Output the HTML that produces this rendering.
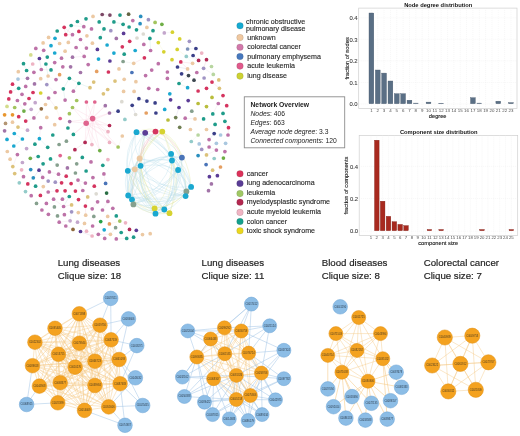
<!DOCTYPE html>
<html><head><meta charset="utf-8"><style>
html,body{margin:0;padding:0;background:#fff;}
svg{display:block;will-change:transform;}
</style></head><body>
<svg width="520" height="436" viewBox="0 0 520 436">
<rect width="520" height="436" fill="#fff"/>
<g stroke-width="0.3" opacity="0.3">
<line x1="77.4" y1="21.5" x2="83.8" y2="26.7" stroke="#1f9c8a"/>
<line x1="71.2" y1="25.5" x2="65.7" y2="34.7" stroke="#1f9c8a"/>
<line x1="71.2" y1="25.5" x2="83.8" y2="26.7" stroke="#1f9c8a"/>
<line x1="64.2" y1="27.3" x2="65.7" y2="34.7" stroke="#d5345f"/>
<line x1="64.2" y1="27.3" x2="72.5" y2="34.7" stroke="#d5345f"/>
<line x1="65.7" y1="34.7" x2="72.5" y2="34.7" stroke="#d5345f"/>
<line x1="72.5" y1="34.7" x2="68.3" y2="42.4" stroke="#bd72a8"/>
<line x1="55.0" y1="38.3" x2="59.6" y2="43.5" stroke="#1aa8d0"/>
<line x1="43.1" y1="42.9" x2="51.0" y2="45.7" stroke="#ecc9a3"/>
<line x1="76.1" y1="47.5" x2="84.2" y2="56.4" stroke="#bd72a8"/>
<line x1="43.7" y1="50.3" x2="39.4" y2="58.5" stroke="#bd72a8"/>
<line x1="39.4" y1="58.5" x2="41.3" y2="69.5" stroke="#5b3c96"/>
<line x1="72.5" y1="57.2" x2="84.2" y2="56.4" stroke="#a274a8"/>
<line x1="23.5" y1="63.7" x2="26.6" y2="70.5" stroke="#1f9c8a"/>
<line x1="32.7" y1="64.0" x2="26.6" y2="70.5" stroke="#eeb3c3"/>
<line x1="45.9" y1="64.0" x2="48.1" y2="76.0" stroke="#1f9c8a"/>
<line x1="41.3" y1="69.5" x2="51.0" y2="69.9" stroke="#bd72a8"/>
<line x1="18.0" y1="79.1" x2="27.5" y2="78.3" stroke="#a9c7df"/>
<line x1="40.7" y1="78.7" x2="34.5" y2="83.9" stroke="#ecc9a3"/>
<line x1="48.1" y1="76.0" x2="56.0" y2="79.6" stroke="#ecc9a3"/>
<line x1="48.1" y1="76.0" x2="46.8" y2="84.6" stroke="#ecc9a3"/>
<line x1="69.4" y1="78.3" x2="78.9" y2="83.3" stroke="#1f9c8a"/>
<line x1="69.4" y1="78.3" x2="63.3" y2="88.8" stroke="#1f9c8a"/>
<line x1="78.9" y1="83.3" x2="73.4" y2="91.2" stroke="#1f9c8a"/>
<line x1="78.9" y1="83.3" x2="90.0" y2="87.7" stroke="#1f9c8a"/>
<line x1="46.8" y1="84.6" x2="55.0" y2="92.5" stroke="#a094c4"/>
<line x1="18.7" y1="88.3" x2="10.6" y2="91.9" stroke="#1f9c8a"/>
<line x1="63.3" y1="88.8" x2="65.1" y2="100.1" stroke="#1f9c8a"/>
<line x1="22.0" y1="94.3" x2="29.0" y2="98.5" stroke="#bd72a8"/>
<line x1="48.6" y1="98.0" x2="56.0" y2="107.8" stroke="#bd72a8"/>
<line x1="102.2" y1="14.5" x2="109.9" y2="15.1" stroke="#7c4866"/>
<line x1="113.9" y1="21.9" x2="123.1" y2="24.3" stroke="#1f9c8a"/>
<line x1="104.0" y1="28.9" x2="100.3" y2="37.7" stroke="#1f9c8a"/>
<line x1="143.3" y1="34.0" x2="149.9" y2="38.4" stroke="#dcdad2"/>
<line x1="80.5" y1="39.5" x2="86.4" y2="48.1" stroke="#bd72a8"/>
<line x1="149.9" y1="38.4" x2="150.6" y2="50.5" stroke="#1f9c8a"/>
<line x1="123.1" y1="61.5" x2="133.7" y2="63.3" stroke="#86a08e"/>
<line x1="144.4" y1="57.8" x2="133.7" y2="63.3" stroke="#d5345f"/>
<line x1="164.3" y1="32.9" x2="172.4" y2="32.2" stroke="#c3a6cc"/>
<line x1="158.3" y1="42.6" x2="163.8" y2="51.8" stroke="#d6d230"/>
<line x1="189.4" y1="41.3" x2="187.6" y2="49.0" stroke="#a094c4"/>
<line x1="177.2" y1="49.4" x2="186.3" y2="56.4" stroke="#d6d230"/>
<line x1="187.6" y1="49.0" x2="195.9" y2="48.5" stroke="#7d92b9"/>
<line x1="186.3" y1="56.4" x2="192.6" y2="63.3" stroke="#93cbc9"/>
<line x1="186.3" y1="56.4" x2="198.6" y2="60.4" stroke="#93cbc9"/>
<line x1="193.1" y1="55.5" x2="198.6" y2="60.4" stroke="#3a3f88"/>
<line x1="180.8" y1="61.9" x2="192.6" y2="63.3" stroke="#d5345f"/>
<line x1="180.8" y1="61.9" x2="187.6" y2="68.9" stroke="#d5345f"/>
<line x1="206.5" y1="59.7" x2="203.6" y2="68.3" stroke="#b22a55"/>
<line x1="177.5" y1="67.0" x2="187.6" y2="68.9" stroke="#3a3f88"/>
<line x1="203.6" y1="68.3" x2="213.3" y2="74.4" stroke="#a094c4"/>
<line x1="211.5" y1="66.5" x2="213.3" y2="74.4" stroke="#b8d6a0"/>
<line x1="188.5" y1="75.6" x2="179.0" y2="83.5" stroke="#3d4750"/>
<line x1="212.0" y1="82.1" x2="219.4" y2="88.3" stroke="#d5345f"/>
<line x1="179.0" y1="83.5" x2="187.6" y2="87.7" stroke="#1f9c8a"/>
<line x1="17.4" y1="100.5" x2="23.9" y2="111.1" stroke="#bd72a8"/>
<line x1="7.0" y1="106.4" x2="12.5" y2="114.8" stroke="#d3dc8c"/>
<line x1="31.2" y1="109.3" x2="23.9" y2="111.1" stroke="#c3a6cc"/>
<line x1="41.3" y1="108.8" x2="33.9" y2="117.9" stroke="#8f6a3e"/>
<line x1="56.0" y1="107.8" x2="60.2" y2="118.5" stroke="#dcc27a"/>
<line x1="72.5" y1="107.5" x2="69.4" y2="113.7" stroke="#a2c45e"/>
<line x1="33.9" y1="117.9" x2="25.7" y2="121.1" stroke="#bd72a8"/>
<line x1="18.0" y1="127.1" x2="27.5" y2="130.2" stroke="#dcc27a"/>
<line x1="40.7" y1="127.7" x2="39.4" y2="138.7" stroke="#bd72a8"/>
<line x1="14.3" y1="133.5" x2="22.4" y2="139.0" stroke="#1aa8d0"/>
<line x1="22.4" y1="139.0" x2="13.8" y2="146.0" stroke="#1aa8d0"/>
<line x1="39.4" y1="138.7" x2="47.7" y2="147.3" stroke="#1aa8d0"/>
<line x1="74.9" y1="149.7" x2="85.1" y2="142.4" stroke="#b22a55"/>
<line x1="17.4" y1="154.6" x2="12.8" y2="166.6" stroke="#bd72a8"/>
<line x1="38.2" y1="156.5" x2="30.3" y2="158.3" stroke="#1f9c8a"/>
<line x1="50.5" y1="158.9" x2="57.2" y2="165.1" stroke="#1f9c8a"/>
<line x1="10.1" y1="159.2" x2="12.8" y2="166.6" stroke="#ecc9a3"/>
<line x1="39.0" y1="170.2" x2="33.3" y2="177.8" stroke="#5b3c96"/>
<line x1="39.0" y1="170.2" x2="42.7" y2="177.4" stroke="#5b3c96"/>
<line x1="33.3" y1="177.8" x2="27.8" y2="183.9" stroke="#2a8fbf"/>
<line x1="43.3" y1="186.6" x2="40.4" y2="195.4" stroke="#ecc9a3"/>
<line x1="43.3" y1="186.6" x2="48.2" y2="181.1" stroke="#ecc9a3"/>
<line x1="49.4" y1="171.9" x2="58.5" y2="174.2" stroke="#bd72a8"/>
<line x1="58.5" y1="174.2" x2="61.6" y2="182.8" stroke="#bd72a8"/>
<line x1="78.0" y1="180.1" x2="85.4" y2="183.1" stroke="#bd72a8"/>
<line x1="78.0" y1="180.1" x2="82.8" y2="190.5" stroke="#bd72a8"/>
<line x1="48.2" y1="192.0" x2="57.0" y2="190.8" stroke="#bd72a8"/>
<line x1="69.3" y1="196.5" x2="62.4" y2="199.2" stroke="#1f9c8a"/>
<line x1="69.3" y1="196.5" x2="63.6" y2="206.5" stroke="#1f9c8a"/>
<line x1="87.7" y1="196.9" x2="85.4" y2="206.1" stroke="#dcc27a"/>
<line x1="53.6" y1="199.2" x2="63.6" y2="206.5" stroke="#bd72a8"/>
<line x1="63.6" y1="206.5" x2="71.6" y2="204.9" stroke="#bd72a8"/>
<line x1="85.4" y1="206.1" x2="85.7" y2="215.2" stroke="#d5345f"/>
<line x1="92.2" y1="208.8" x2="97.6" y2="201.8" stroke="#bd72a8"/>
<line x1="71.6" y1="211.8" x2="70.1" y2="220.8" stroke="#a094c4"/>
<line x1="103.9" y1="173.9" x2="105.6" y2="183.4" stroke="#bd72a8"/>
<line x1="107.9" y1="201.4" x2="102.5" y2="210.0" stroke="#bd72a8"/>
<line x1="59.2" y1="222.2" x2="70.1" y2="220.8" stroke="#bd72a8"/>
<line x1="59.2" y1="222.2" x2="65.8" y2="226.0" stroke="#bd72a8"/>
<line x1="84.5" y1="223.4" x2="80.5" y2="231.5" stroke="#ecc9a3"/>
<line x1="109.4" y1="223.9" x2="119.8" y2="221.1" stroke="#e59f62"/>
<line x1="65.8" y1="226.0" x2="73.0" y2="229.4" stroke="#bd72a8"/>
<line x1="115.6" y1="227.7" x2="110.4" y2="234.3" stroke="#86a08e"/>
<line x1="80.5" y1="231.5" x2="92.1" y2="236.0" stroke="#5b3c96"/>
<line x1="86.5" y1="231.2" x2="92.1" y2="236.0" stroke="#eeb3c3"/>
<line x1="86.5" y1="231.2" x2="98.3" y2="234.3" stroke="#eeb3c3"/>
<line x1="98.3" y1="234.3" x2="110.4" y2="234.3" stroke="#bd72a8"/>
<line x1="116.3" y1="238.9" x2="126.7" y2="238.4" stroke="#bd72a8"/>
<line x1="138.9" y1="98.7" x2="146.9" y2="101.1" stroke="#3a3f88"/>
<line x1="132.2" y1="105.3" x2="135.6" y2="114.5" stroke="#3a3f88"/>
<line x1="109.5" y1="113.0" x2="118.1" y2="111.2" stroke="#a274a8"/>
<line x1="108.0" y1="131.7" x2="109.5" y2="142.4" stroke="#eeb3c3"/>
<line x1="122.3" y1="136.0" x2="118.1" y2="147.0" stroke="#ecc9a3"/>
<line x1="218.3" y1="103.5" x2="212.8" y2="113.9" stroke="#bd72a8"/>
<line x1="179.0" y1="107.5" x2="175.7" y2="117.6" stroke="#5b3c96"/>
<line x1="206.5" y1="106.6" x2="212.8" y2="113.9" stroke="#b9bd3c"/>
<line x1="185.2" y1="118.2" x2="195.0" y2="118.9" stroke="#bd72a8"/>
<line x1="224.9" y1="121.3" x2="228.5" y2="127.7" stroke="#1f9c8a"/>
<line x1="228.5" y1="127.7" x2="228.0" y2="135.0" stroke="#d5345f"/>
<line x1="198.1" y1="135.0" x2="191.3" y2="141.5" stroke="#b8d6a0"/>
<line x1="214.2" y1="133.6" x2="209.1" y2="139.6" stroke="#3a3f88"/>
<line x1="216.4" y1="143.3" x2="209.1" y2="147.0" stroke="#a9c7df"/>
<line x1="209.1" y1="147.0" x2="216.4" y2="150.1" stroke="#bd72a8"/>
<line x1="216.4" y1="150.1" x2="206.5" y2="154.9" stroke="#bd72a8"/>
<line x1="206.5" y1="154.9" x2="206.1" y2="164.6" stroke="#dcc27a"/>
<line x1="220.5" y1="167.0" x2="217.4" y2="175.7" stroke="#e59f62"/>
</g>
<g stroke="#f2a6c0" stroke-width="0.35" opacity="0.5">
<line x1="92.6" y1="118.6" x2="86.4" y2="102"/>
<line x1="92.6" y1="118.6" x2="94.8" y2="102"/>
<line x1="92.6" y1="118.6" x2="105.3" y2="105.7"/>
<line x1="92.6" y1="118.6" x2="109.5" y2="113"/>
<line x1="92.6" y1="118.6" x2="109.5" y2="125.5"/>
<line x1="92.6" y1="118.6" x2="108" y2="131.7"/>
<line x1="92.6" y1="118.6" x2="109.5" y2="142.4"/>
<line x1="92.6" y1="118.6" x2="85.1" y2="142.4"/>
<line x1="92.6" y1="118.6" x2="91.9" y2="144.6"/>
<line x1="92.6" y1="118.6" x2="99.8" y2="150.6"/>
<line x1="92.6" y1="118.6" x2="69.7" y2="121.6"/>
<line x1="92.6" y1="118.6" x2="73.4" y2="134.4"/>
<line x1="92.6" y1="118.6" x2="72.5" y2="107.5"/>
<line x1="92.6" y1="118.6" x2="118.1" y2="147"/>
<line x1="86.2" y1="123.2" x2="86.4" y2="102"/>
<line x1="86.2" y1="123.2" x2="94.8" y2="102"/>
<line x1="86.2" y1="123.2" x2="105.3" y2="105.7"/>
<line x1="86.2" y1="123.2" x2="109.5" y2="113"/>
<line x1="86.2" y1="123.2" x2="109.5" y2="125.5"/>
<line x1="86.2" y1="123.2" x2="108" y2="131.7"/>
<line x1="86.2" y1="123.2" x2="109.5" y2="142.4"/>
<line x1="86.2" y1="123.2" x2="85.1" y2="142.4"/>
<line x1="86.2" y1="123.2" x2="91.9" y2="144.6"/>
<line x1="86.2" y1="123.2" x2="99.8" y2="150.6"/>
<line x1="86.2" y1="123.2" x2="69.7" y2="121.6"/>
<line x1="86.2" y1="123.2" x2="73.4" y2="134.4"/>
<line x1="86.2" y1="123.2" x2="72.5" y2="107.5"/>
<line x1="86.2" y1="123.2" x2="118.1" y2="147"/>
</g>
<g stroke="#a6d4e6" stroke-width="0.35" fill="none" opacity="0.8">
<path d="M136.5,132.2 Q141.0,130.6 145.2,132.8" stroke="#a6d4e6"/>
<path d="M136.5,132.2 Q149.3,126.2 162.3,131.6" stroke="#d8e08a"/>
<path d="M136.5,132.2 Q160.5,138.5 172.0,160.5" stroke="#a6d4e6"/>
<path d="M136.5,132.2 Q132.3,146.0 139.6,158.4" stroke="#a6d4e6"/>
<path d="M136.5,132.2 Q127.5,150.4 134.8,169.3" stroke="#a6d4e6"/>
<path d="M136.5,132.2 Q123.7,149.6 127.8,170.8" stroke="#a6d4e6"/>
<path d="M136.5,132.2 Q175.8,147.5 191.1,186.9" stroke="#a6d4e6"/>
<path d="M136.5,132.2 Q175.1,153.3 185.6,196.1" stroke="#a6d4e6"/>
<path d="M136.5,132.2 Q119.4,164.9 132.0,199.6" stroke="#a6d4e6"/>
<path d="M145.2,132.8 Q150.1,129.9 155.5,131.6" stroke="#f0a0b0"/>
<path d="M145.2,132.8 Q169.0,137.1 181.9,157.6" stroke="#a6d4e6"/>
<path d="M145.2,132.8 Q164.7,140.8 172.0,160.5" stroke="#a6d4e6"/>
<path d="M145.2,132.8 Q135.6,148.3 140.6,165.8" stroke="#a6d4e6"/>
<path d="M145.2,132.8 Q178.7,153.0 186.4,191.4" stroke="#a6d4e6"/>
<path d="M145.2,132.8 Q122.9,160.4 128.2,195.5" stroke="#a6d4e6"/>
<path d="M145.2,132.8 Q133.2,172.7 154.6,208.5" stroke="#d8e08a"/>
<path d="M145.2,132.8 Q137.9,175.4 164.3,209.5" stroke="#a6d4e6"/>
<path d="M145.2,132.8 Q132.6,175.5 155.5,213.7" stroke="#a6d4e6"/>
<path d="M155.5,131.6 Q158.9,130.1 162.3,131.6" stroke="#f0a0b0"/>
<path d="M155.5,131.6 Q174.4,138.8 181.9,157.6" stroke="#f0a0b0"/>
<path d="M155.5,131.6 Q141.7,141.5 139.6,158.4" stroke="#f0a0b0"/>
<path d="M155.5,131.6 Q140.5,145.4 140.6,165.8" stroke="#f0a0b0"/>
<path d="M155.5,131.6 Q128.4,163.1 133.4,204.4" stroke="#f0a0b0"/>
<path d="M162.3,131.6 Q177.8,140.3 181.9,157.6" stroke="#d8e08a"/>
<path d="M162.3,131.6 Q143.9,143.9 140.6,165.8" stroke="#d8e08a"/>
<path d="M162.3,131.6 Q140.3,144.4 134.8,169.3" stroke="#d8e08a"/>
<path d="M162.3,131.6 Q188.9,152.9 191.1,186.9" stroke="#d8e08a"/>
<path d="M162.3,131.6 Q188.1,158.7 185.6,196.1" stroke="#d8e08a"/>
<path d="M162.3,131.6 Q131.2,156.0 128.2,195.5" stroke="#d8e08a"/>
<path d="M162.3,131.6 Q132.2,158.9 132.0,199.6" stroke="#d8e08a"/>
<path d="M162.3,131.6 Q180.4,170.1 164.3,209.5" stroke="#d8e08a"/>
<path d="M162.3,131.6 Q183.9,170.8 169.5,213.2" stroke="#d8e08a"/>
<path d="M171.1,153.9 Q173.0,157.0 172.0,160.5" stroke="#a6d4e6"/>
<path d="M171.1,153.9 Q178.1,160.4 178.1,170.0" stroke="#a6d4e6"/>
<path d="M171.1,153.9 Q188.4,166.0 191.1,186.9" stroke="#a6d4e6"/>
<path d="M171.1,153.9 Q187.6,171.8 185.6,196.1" stroke="#a6d4e6"/>
<path d="M171.1,153.9 Q140.5,165.3 128.2,195.5" stroke="#a6d4e6"/>
<path d="M171.1,153.9 Q141.5,168.1 132.0,199.6" stroke="#a6d4e6"/>
<path d="M171.1,153.9 Q174.9,184.8 154.6,208.5" stroke="#d8e08a"/>
<path d="M171.1,153.9 Q179.9,183.2 164.3,209.5" stroke="#a6d4e6"/>
<path d="M171.1,153.9 Q183.3,183.9 169.5,213.2" stroke="#d8e08a"/>
<path d="M181.9,157.6 Q159.4,152.6 140.6,165.8" stroke="#a6d4e6"/>
<path d="M181.9,157.6 Q155.8,153.1 134.8,169.3" stroke="#a6d4e6"/>
<path d="M181.9,157.6 Q167.9,191.7 133.4,204.4" stroke="#a6d4e6"/>
<path d="M181.9,157.6 Q184.5,187.4 164.3,209.5" stroke="#a6d4e6"/>
<path d="M181.9,157.6 Q181.0,191.5 155.5,213.7" stroke="#a6d4e6"/>
<path d="M172.0,160.5 Q151.5,156.7 134.8,169.3" stroke="#a6d4e6"/>
<path d="M172.0,160.5 Q147.6,155.9 127.8,170.8" stroke="#a6d4e6"/>
<path d="M172.0,160.5 Q187.4,169.5 191.1,186.9" stroke="#a6d4e6"/>
<path d="M172.0,160.5 Q142.4,168.4 128.2,195.5" stroke="#a6d4e6"/>
<path d="M172.0,160.5 Q162.4,190.9 133.4,204.4" stroke="#a6d4e6"/>
<path d="M172.0,160.5 Q178.9,186.7 164.3,209.5" stroke="#a6d4e6"/>
<path d="M139.6,158.4 Q138.5,162.3 140.6,165.8" stroke="#a6d4e6"/>
<path d="M139.6,158.4 Q134.8,162.8 134.8,169.3" stroke="#a6d4e6"/>
<path d="M139.6,158.4 Q171.6,161.3 191.1,186.9" stroke="#a6d4e6"/>
<path d="M139.6,158.4 Q170.3,164.6 186.4,191.4" stroke="#a6d4e6"/>
<path d="M139.6,158.4 Q125.7,174.4 128.2,195.5" stroke="#a6d4e6"/>
<path d="M139.6,158.4 Q126.7,177.3 132.0,199.6" stroke="#a6d4e6"/>
<path d="M139.6,158.4 Q126.4,180.0 133.4,204.4" stroke="#a6d4e6"/>
<path d="M139.6,158.4 Q136.1,186.8 154.6,208.5" stroke="#d8e08a"/>
<path d="M139.6,158.4 Q135.4,189.5 155.5,213.7" stroke="#a6d4e6"/>
<path d="M139.6,158.4 Q142.5,192.4 169.5,213.2" stroke="#d8e08a"/>
<path d="M140.6,165.8 Q133.1,165.5 127.8,170.8" stroke="#a6d4e6"/>
<path d="M140.6,165.8 Q157.9,188.7 186.4,191.4" stroke="#a6d4e6"/>
<path d="M140.6,165.8 Q156.4,190.8 185.6,196.1" stroke="#a6d4e6"/>
<path d="M140.6,165.8 Q128.9,180.8 132.0,199.6" stroke="#a6d4e6"/>
<path d="M140.6,165.8 Q128.5,183.5 133.4,204.4" stroke="#a6d4e6"/>
<path d="M140.6,165.8 Q138.2,190.2 154.6,208.5" stroke="#d8e08a"/>
<path d="M140.6,165.8 Q137.5,193.0 155.5,213.7" stroke="#a6d4e6"/>
<path d="M140.6,165.8 Q144.6,195.9 169.5,213.2" stroke="#d8e08a"/>
<path d="M134.8,169.3 Q131.0,168.5 127.8,170.8" stroke="#a6d4e6"/>
<path d="M134.8,169.3 Q159.1,190.5 191.1,186.9" stroke="#a6d4e6"/>
<path d="M134.8,169.3 Q154.3,193.9 185.6,196.1" stroke="#a6d4e6"/>
<path d="M134.8,169.3 Q125.7,180.9 128.2,195.5" stroke="#a6d4e6"/>
<path d="M134.8,169.3 Q136.1,193.3 154.6,208.5" stroke="#d8e08a"/>
<path d="M134.8,169.3 Q140.7,195.9 164.3,209.5" stroke="#a6d4e6"/>
<path d="M134.8,169.3 Q135.4,196.1 155.5,213.7" stroke="#a6d4e6"/>
<path d="M127.8,170.8 Q152.8,159.3 178.1,170.0" stroke="#a6d4e6"/>
<path d="M127.8,170.8 Q151.1,196.2 185.6,196.1" stroke="#a6d4e6"/>
<path d="M127.8,170.8 Q122.6,183.2 128.2,195.5" stroke="#a6d4e6"/>
<path d="M127.8,170.8 Q137.5,198.2 164.3,209.5" stroke="#a6d4e6"/>
<path d="M127.8,170.8 Q132.2,198.3 155.5,213.7" stroke="#a6d4e6"/>
<path d="M127.8,170.8 Q139.3,201.2 169.5,213.2" stroke="#d8e08a"/>
<path d="M178.1,170.0 Q187.0,178.9 186.4,191.4" stroke="#a6d4e6"/>
<path d="M178.1,170.0 Q187.6,181.4 185.6,196.1" stroke="#a6d4e6"/>
<path d="M178.1,170.0 Q158.8,193.7 128.2,195.5" stroke="#a6d4e6"/>
<path d="M178.1,170.0 Q161.6,194.9 132.0,199.6" stroke="#a6d4e6"/>
<path d="M178.1,170.0 Q163.3,197.0 133.4,204.4" stroke="#a6d4e6"/>
<path d="M178.1,170.0 Q179.9,192.8 164.3,209.5" stroke="#a6d4e6"/>
<path d="M178.1,170.0 Q176.4,196.8 155.5,213.7" stroke="#a6d4e6"/>
<path d="M191.1,186.9 Q161.5,205.0 128.2,195.5" stroke="#a6d4e6"/>
<path d="M191.1,186.9 Q177.6,205.7 154.6,208.5" stroke="#d8e08a"/>
<path d="M186.4,191.4 Q158.2,206.3 128.2,195.5" stroke="#a6d4e6"/>
<path d="M186.4,191.4 Q161.0,207.5 132.0,199.6" stroke="#a6d4e6"/>
<path d="M186.4,191.4 Q162.8,209.6 133.4,204.4" stroke="#a6d4e6"/>
<path d="M186.4,191.4 Q174.3,206.9 154.6,208.5" stroke="#d8e08a"/>
<path d="M186.4,191.4 Q175.9,209.3 155.5,213.7" stroke="#a6d4e6"/>
<path d="M185.6,196.1 Q156.8,208.4 128.2,195.5" stroke="#a6d4e6"/>
<path d="M128.2,195.5 Q129.2,198.4 132.0,199.6" stroke="#a6d4e6"/>
<path d="M128.2,195.5 Q138.5,207.8 154.6,208.5" stroke="#d8e08a"/>
<path d="M128.2,195.5 Q143.2,210.4 164.3,209.5" stroke="#a6d4e6"/>
<path d="M132.0,199.6 Q131.6,202.3 133.4,204.4" stroke="#a6d4e6"/>
<path d="M132.0,199.6 Q140.6,211.8 155.5,213.7" stroke="#a6d4e6"/>
<path d="M132.0,199.6 Q147.8,214.6 169.5,213.2" stroke="#d8e08a"/>
<path d="M133.4,204.4 Q147.7,213.7 164.3,209.5" stroke="#a6d4e6"/>
<path d="M133.4,204.4 Q149.5,216.7 169.5,213.2" stroke="#d8e08a"/>
<path d="M154.6,208.5 Q159.2,211.1 164.3,209.5" stroke="#d8e08a"/>
<path d="M164.3,209.5 Q160.8,213.5 155.5,213.7" stroke="#a6d4e6"/>
</g>
<circle cx="77.4" cy="21.5" r="1.85" fill="#1f9c8a"/>
<circle cx="71.2" cy="25.5" r="1.85" fill="#1f9c8a"/>
<circle cx="64.2" cy="27.3" r="1.85" fill="#d5345f"/>
<circle cx="57.2" cy="31.0" r="1.85" fill="#1f9c8a"/>
<circle cx="78.9" cy="31.4" r="1.85" fill="#d5345f"/>
<circle cx="65.7" cy="34.7" r="1.85" fill="#d5345f"/>
<circle cx="72.5" cy="34.7" r="1.85" fill="#bd72a8"/>
<circle cx="48.6" cy="37.4" r="1.85" fill="#ecc9a3"/>
<circle cx="55.0" cy="38.3" r="1.85" fill="#1aa8d0"/>
<circle cx="43.1" cy="42.9" r="1.85" fill="#ecc9a3"/>
<circle cx="51.0" cy="45.7" r="1.85" fill="#1aa8d0"/>
<circle cx="59.6" cy="43.5" r="1.85" fill="#ecc9a3"/>
<circle cx="68.3" cy="42.4" r="1.85" fill="#ecc9a3"/>
<circle cx="76.1" cy="47.5" r="1.85" fill="#bd72a8"/>
<circle cx="35.8" cy="48.4" r="1.85" fill="#bd72a8"/>
<circle cx="43.7" cy="50.3" r="1.85" fill="#bd72a8"/>
<circle cx="54.7" cy="53.0" r="1.85" fill="#1aa8d0"/>
<circle cx="65.1" cy="51.2" r="1.85" fill="#ecc9a3"/>
<circle cx="30.8" cy="54.9" r="1.85" fill="#d3dc8c"/>
<circle cx="39.4" cy="58.5" r="1.85" fill="#5b3c96"/>
<circle cx="47.3" cy="57.1" r="1.85" fill="#1f9c8a"/>
<circle cx="61.5" cy="58.2" r="1.85" fill="#bd72a8"/>
<circle cx="72.5" cy="57.2" r="1.85" fill="#a274a8"/>
<circle cx="23.5" cy="63.7" r="1.85" fill="#1f9c8a"/>
<circle cx="32.7" cy="64.0" r="1.85" fill="#eeb3c3"/>
<circle cx="45.9" cy="64.0" r="1.85" fill="#1f9c8a"/>
<circle cx="54.7" cy="62.6" r="1.85" fill="#bd72a8"/>
<circle cx="62.8" cy="66.8" r="1.85" fill="#bd72a8"/>
<circle cx="70.6" cy="66.8" r="1.85" fill="#a274a8"/>
<circle cx="18.3" cy="71.7" r="1.85" fill="#ecc9a3"/>
<circle cx="26.6" cy="70.5" r="1.85" fill="#1f9c8a"/>
<circle cx="33.9" cy="72.3" r="1.85" fill="#bd72a8"/>
<circle cx="41.3" cy="69.5" r="1.85" fill="#bd72a8"/>
<circle cx="51.0" cy="69.9" r="1.85" fill="#1f9c8a"/>
<circle cx="59.6" cy="74.7" r="1.85" fill="#e59f62"/>
<circle cx="18.0" cy="79.1" r="1.85" fill="#a9c7df"/>
<circle cx="27.5" cy="78.3" r="1.85" fill="#a274a8"/>
<circle cx="40.7" cy="78.7" r="1.85" fill="#ecc9a3"/>
<circle cx="48.1" cy="76.0" r="1.85" fill="#ecc9a3"/>
<circle cx="56.0" cy="79.6" r="1.85" fill="#bd72a8"/>
<circle cx="69.4" cy="78.3" r="1.85" fill="#1f9c8a"/>
<circle cx="78.9" cy="83.3" r="1.85" fill="#1f9c8a"/>
<circle cx="12.5" cy="84.2" r="1.85" fill="#d5345f"/>
<circle cx="25.7" cy="86.4" r="1.85" fill="#bd72a8"/>
<circle cx="34.5" cy="83.9" r="1.85" fill="#a274a8"/>
<circle cx="46.8" cy="84.6" r="1.85" fill="#a094c4"/>
<circle cx="18.7" cy="88.3" r="1.85" fill="#1f9c8a"/>
<circle cx="63.3" cy="88.8" r="1.85" fill="#1f9c8a"/>
<circle cx="10.6" cy="91.9" r="1.85" fill="#d5345f"/>
<circle cx="22.0" cy="94.3" r="1.85" fill="#bd72a8"/>
<circle cx="33.0" cy="92.5" r="1.85" fill="#d5345f"/>
<circle cx="40.7" cy="93.0" r="1.85" fill="#d6d230"/>
<circle cx="55.0" cy="92.5" r="1.85" fill="#bd72a8"/>
<circle cx="73.4" cy="91.2" r="1.85" fill="#bd72a8"/>
<circle cx="8.8" cy="98.9" r="1.85" fill="#d5345f"/>
<circle cx="29.0" cy="98.5" r="1.85" fill="#d5345f"/>
<circle cx="48.6" cy="98.0" r="1.85" fill="#bd72a8"/>
<circle cx="102.2" cy="14.5" r="1.85" fill="#7c4866"/>
<circle cx="109.9" cy="15.1" r="1.85" fill="#7c4866"/>
<circle cx="120.0" cy="15.1" r="1.85" fill="#1f9c8a"/>
<circle cx="128.6" cy="14.2" r="1.85" fill="#646444"/>
<circle cx="93.0" cy="16.4" r="1.85" fill="#ecc9a3"/>
<circle cx="86.0" cy="18.8" r="1.85" fill="#1f9c8a"/>
<circle cx="99.2" cy="21.9" r="1.85" fill="#1f9c8a"/>
<circle cx="113.9" cy="21.9" r="1.85" fill="#1f9c8a"/>
<circle cx="132.8" cy="20.6" r="1.85" fill="#bd72a8"/>
<circle cx="140.7" cy="16.4" r="1.85" fill="#2a8fbf"/>
<circle cx="148.4" cy="19.7" r="1.85" fill="#a094c4"/>
<circle cx="123.1" cy="24.3" r="1.85" fill="#1f9c8a"/>
<circle cx="140.1" cy="23.7" r="1.85" fill="#2a8fbf"/>
<circle cx="83.8" cy="26.7" r="1.85" fill="#bd72a8"/>
<circle cx="91.5" cy="28.9" r="1.85" fill="#bd72a8"/>
<circle cx="104.0" cy="28.9" r="1.85" fill="#1f9c8a"/>
<circle cx="110.8" cy="30.7" r="1.85" fill="#a094c4"/>
<circle cx="129.1" cy="27.0" r="1.85" fill="#1f9c8a"/>
<circle cx="136.5" cy="29.8" r="1.85" fill="#1f9c8a"/>
<circle cx="146.9" cy="27.4" r="1.85" fill="#ecc9a3"/>
<circle cx="153.0" cy="30.7" r="1.85" fill="#1f9c8a"/>
<circle cx="86.9" cy="35.8" r="1.85" fill="#ecc9a3"/>
<circle cx="100.3" cy="37.7" r="1.85" fill="#1f9c8a"/>
<circle cx="123.6" cy="33.4" r="1.85" fill="#5b3c96"/>
<circle cx="143.3" cy="34.0" r="1.85" fill="#dcdad2"/>
<circle cx="80.5" cy="39.5" r="1.85" fill="#bd72a8"/>
<circle cx="116.3" cy="38.4" r="1.85" fill="#a274a8"/>
<circle cx="129.7" cy="41.3" r="1.85" fill="#d5345f"/>
<circle cx="137.0" cy="38.0" r="1.85" fill="#dcdad2"/>
<circle cx="149.9" cy="38.4" r="1.85" fill="#1f9c8a"/>
<circle cx="92.4" cy="43.2" r="1.85" fill="#ecc9a3"/>
<circle cx="107.1" cy="45.0" r="1.85" fill="#1aa8d0"/>
<circle cx="143.8" cy="44.4" r="1.85" fill="#bd72a8"/>
<circle cx="86.4" cy="48.1" r="1.85" fill="#bd72a8"/>
<circle cx="97.4" cy="49.4" r="1.85" fill="#5b3c96"/>
<circle cx="122.3" cy="46.8" r="1.85" fill="#d5345f"/>
<circle cx="113.9" cy="53.1" r="1.85" fill="#1aa8d0"/>
<circle cx="124.2" cy="54.2" r="1.85" fill="#1f9c8a"/>
<circle cx="135.2" cy="50.5" r="1.85" fill="#1aa8d0"/>
<circle cx="150.6" cy="50.5" r="1.85" fill="#bd72a8"/>
<circle cx="84.2" cy="56.4" r="1.85" fill="#bd72a8"/>
<circle cx="98.5" cy="59.1" r="1.85" fill="#1aa8d0"/>
<circle cx="109.9" cy="61.0" r="1.85" fill="#5b3c96"/>
<circle cx="123.1" cy="61.5" r="1.85" fill="#86a08e"/>
<circle cx="144.4" cy="57.8" r="1.85" fill="#d5345f"/>
<circle cx="88.2" cy="64.6" r="1.85" fill="#bd72a8"/>
<circle cx="133.7" cy="63.3" r="1.85" fill="#ecc9a3"/>
<circle cx="119.0" cy="68.9" r="1.85" fill="#ecc9a3"/>
<circle cx="80.5" cy="72.5" r="1.85" fill="#a274a8"/>
<circle cx="96.7" cy="71.4" r="1.85" fill="#e59f62"/>
<circle cx="108.4" cy="72.0" r="1.85" fill="#d5345f"/>
<circle cx="131.9" cy="72.5" r="1.85" fill="#4a74b8"/>
<circle cx="151.7" cy="70.1" r="1.85" fill="#bd72a8"/>
<circle cx="145.6" cy="75.6" r="1.85" fill="#bd72a8"/>
<circle cx="93.7" cy="82.1" r="1.85" fill="#dcc27a"/>
<circle cx="115.0" cy="81.1" r="1.85" fill="#dcc27a"/>
<circle cx="124.2" cy="79.3" r="1.85" fill="#ecc9a3"/>
<circle cx="135.9" cy="81.7" r="1.85" fill="#ecc9a3"/>
<circle cx="155.1" cy="22.4" r="1.85" fill="#a2c45e"/>
<circle cx="161.9" cy="24.3" r="1.85" fill="#6fae46"/>
<circle cx="164.3" cy="32.9" r="1.85" fill="#c3a6cc"/>
<circle cx="172.4" cy="32.2" r="1.85" fill="#d6d230"/>
<circle cx="158.3" cy="42.6" r="1.85" fill="#d6d230"/>
<circle cx="179.7" cy="38.9" r="1.85" fill="#d6d230"/>
<circle cx="189.4" cy="41.3" r="1.85" fill="#a094c4"/>
<circle cx="163.8" cy="51.8" r="1.85" fill="#d6d230"/>
<circle cx="177.2" cy="49.4" r="1.85" fill="#d6d230"/>
<circle cx="187.6" cy="49.0" r="1.85" fill="#7d92b9"/>
<circle cx="195.9" cy="48.5" r="1.85" fill="#3a3f88"/>
<circle cx="201.7" cy="53.1" r="1.85" fill="#eeb3c3"/>
<circle cx="186.3" cy="56.4" r="1.85" fill="#93cbc9"/>
<circle cx="193.1" cy="55.5" r="1.85" fill="#3a3f88"/>
<circle cx="172.0" cy="59.7" r="1.85" fill="#d6d230"/>
<circle cx="158.3" cy="63.7" r="1.85" fill="#bd72a8"/>
<circle cx="180.8" cy="61.9" r="1.85" fill="#d5345f"/>
<circle cx="192.6" cy="63.3" r="1.85" fill="#ecc9a3"/>
<circle cx="198.6" cy="60.4" r="1.85" fill="#b22a55"/>
<circle cx="206.5" cy="59.7" r="1.85" fill="#b22a55"/>
<circle cx="177.5" cy="67.0" r="1.85" fill="#3a3f88"/>
<circle cx="187.6" cy="68.9" r="1.85" fill="#ecc9a3"/>
<circle cx="203.6" cy="68.3" r="1.85" fill="#a094c4"/>
<circle cx="211.5" cy="66.5" r="1.85" fill="#b8d6a0"/>
<circle cx="167.4" cy="72.0" r="1.85" fill="#bd72a8"/>
<circle cx="181.6" cy="73.8" r="1.85" fill="#3a3f88"/>
<circle cx="188.5" cy="75.6" r="1.85" fill="#3d4750"/>
<circle cx="196.8" cy="72.5" r="1.85" fill="#bd72a8"/>
<circle cx="213.3" cy="74.4" r="1.85" fill="#b8d6a0"/>
<circle cx="167.4" cy="78.4" r="1.85" fill="#bd72a8"/>
<circle cx="194.0" cy="80.2" r="1.85" fill="#3d4750"/>
<circle cx="204.1" cy="78.0" r="1.85" fill="#a094c4"/>
<circle cx="212.0" cy="82.1" r="1.85" fill="#d5345f"/>
<circle cx="218.8" cy="79.9" r="1.85" fill="#dcc27a"/>
<circle cx="179.0" cy="83.5" r="1.85" fill="#1f9c8a"/>
<circle cx="17.4" cy="100.5" r="1.85" fill="#bd72a8"/>
<circle cx="24.8" cy="103.8" r="1.85" fill="#bd72a8"/>
<circle cx="35.2" cy="102.7" r="1.85" fill="#c3a6cc"/>
<circle cx="45.5" cy="104.5" r="1.85" fill="#ecc9a3"/>
<circle cx="65.1" cy="100.1" r="1.85" fill="#bd72a8"/>
<circle cx="76.7" cy="100.5" r="1.85" fill="#a2c45e"/>
<circle cx="7.0" cy="106.4" r="1.85" fill="#d3dc8c"/>
<circle cx="14.7" cy="107.5" r="1.85" fill="#a2c45e"/>
<circle cx="31.2" cy="109.3" r="1.85" fill="#c3a6cc"/>
<circle cx="41.3" cy="108.8" r="1.85" fill="#8f6a3e"/>
<circle cx="56.0" cy="107.8" r="1.85" fill="#dcc27a"/>
<circle cx="72.5" cy="107.5" r="1.85" fill="#a2c45e"/>
<circle cx="23.9" cy="111.1" r="1.85" fill="#6fae46"/>
<circle cx="4.6" cy="114.8" r="1.85" fill="#e8962e"/>
<circle cx="12.5" cy="114.8" r="1.85" fill="#e8962e"/>
<circle cx="18.7" cy="116.7" r="1.85" fill="#d5345f"/>
<circle cx="33.9" cy="117.9" r="1.85" fill="#bd72a8"/>
<circle cx="46.8" cy="117.4" r="1.85" fill="#ecc9a3"/>
<circle cx="60.2" cy="118.5" r="1.85" fill="#e0648e"/>
<circle cx="69.4" cy="113.7" r="1.85" fill="#a2c45e"/>
<circle cx="5.5" cy="123.4" r="1.85" fill="#b39673"/>
<circle cx="12.5" cy="122.2" r="1.85" fill="#ecc9a3"/>
<circle cx="25.7" cy="121.1" r="1.85" fill="#d5345f"/>
<circle cx="69.7" cy="121.6" r="1.85" fill="#a274a8"/>
<circle cx="18.0" cy="127.1" r="1.85" fill="#dcc27a"/>
<circle cx="40.7" cy="127.7" r="1.85" fill="#bd72a8"/>
<circle cx="54.7" cy="124.7" r="1.85" fill="#ecc9a3"/>
<circle cx="67.9" cy="128.0" r="1.85" fill="#1f9c8a"/>
<circle cx="4.6" cy="130.8" r="1.85" fill="#a274a8"/>
<circle cx="27.5" cy="130.2" r="1.85" fill="#c3a6cc"/>
<circle cx="14.3" cy="133.5" r="1.85" fill="#1aa8d0"/>
<circle cx="52.8" cy="135.0" r="1.85" fill="#1f9c8a"/>
<circle cx="73.4" cy="134.4" r="1.85" fill="#1f9c8a"/>
<circle cx="7.0" cy="139.4" r="1.85" fill="#1aa8d0"/>
<circle cx="22.4" cy="139.0" r="1.85" fill="#1aa8d0"/>
<circle cx="39.4" cy="138.7" r="1.85" fill="#1aa8d0"/>
<circle cx="66.4" cy="141.2" r="1.85" fill="#86a08e"/>
<circle cx="13.8" cy="146.0" r="1.85" fill="#1aa8d0"/>
<circle cx="34.9" cy="144.2" r="1.85" fill="#1f9c8a"/>
<circle cx="47.7" cy="147.3" r="1.85" fill="#1f9c8a"/>
<circle cx="59.1" cy="144.5" r="1.85" fill="#86a08e"/>
<circle cx="26.6" cy="148.6" r="1.85" fill="#c3a6cc"/>
<circle cx="74.9" cy="149.7" r="1.85" fill="#b22a55"/>
<circle cx="7.3" cy="151.5" r="1.85" fill="#ecc9a3"/>
<circle cx="17.4" cy="154.6" r="1.85" fill="#bd72a8"/>
<circle cx="38.2" cy="156.5" r="1.85" fill="#1f9c8a"/>
<circle cx="30.3" cy="158.3" r="1.85" fill="#6fae46"/>
<circle cx="60.2" cy="155.6" r="1.85" fill="#e0648e"/>
<circle cx="50.5" cy="158.9" r="1.85" fill="#1f9c8a"/>
<circle cx="69.4" cy="157.8" r="1.85" fill="#a2c45e"/>
<circle cx="10.1" cy="159.2" r="1.85" fill="#ecc9a3"/>
<circle cx="22.4" cy="162.5" r="1.85" fill="#c3a6cc"/>
<circle cx="43.1" cy="163.8" r="1.85" fill="#1f9c8a"/>
<circle cx="57.2" cy="165.1" r="1.85" fill="#86a08e"/>
<circle cx="76.7" cy="163.8" r="1.85" fill="#86a08e"/>
<circle cx="12.8" cy="166.6" r="1.85" fill="#dcc27a"/>
<circle cx="21.6" cy="169.8" r="1.85" fill="#eeb3c3"/>
<circle cx="30.7" cy="169.6" r="1.85" fill="#2a8fbf"/>
<circle cx="39.0" cy="170.2" r="1.85" fill="#5b3c96"/>
<circle cx="14.7" cy="173.6" r="1.85" fill="#dcc27a"/>
<circle cx="23.5" cy="176.7" r="1.85" fill="#bd72a8"/>
<circle cx="33.3" cy="177.8" r="1.85" fill="#2a8fbf"/>
<circle cx="42.7" cy="177.4" r="1.85" fill="#bd72a8"/>
<circle cx="19.3" cy="182.8" r="1.85" fill="#93cbc9"/>
<circle cx="27.8" cy="183.9" r="1.85" fill="#d5345f"/>
<circle cx="35.6" cy="186.2" r="1.85" fill="#1f9c8a"/>
<circle cx="43.3" cy="186.6" r="1.85" fill="#ecc9a3"/>
<circle cx="25.5" cy="191.6" r="1.85" fill="#93cbc9"/>
<circle cx="31.2" cy="195.7" r="1.85" fill="#bd72a8"/>
<circle cx="40.4" cy="195.4" r="1.85" fill="#d5345f"/>
<circle cx="36.5" cy="203.4" r="1.85" fill="#86a08e"/>
<circle cx="41.9" cy="210.0" r="1.85" fill="#bd72a8"/>
<circle cx="67.4" cy="167.9" r="1.85" fill="#a274a8"/>
<circle cx="49.4" cy="171.9" r="1.85" fill="#bd72a8"/>
<circle cx="58.5" cy="174.2" r="1.85" fill="#bd72a8"/>
<circle cx="75.4" cy="173.0" r="1.85" fill="#86a08e"/>
<circle cx="86.1" cy="171.0" r="1.85" fill="#1f9c8a"/>
<circle cx="66.2" cy="176.2" r="1.85" fill="#d5345f"/>
<circle cx="48.2" cy="181.1" r="1.85" fill="#a094c4"/>
<circle cx="55.3" cy="182.2" r="1.85" fill="#a094c4"/>
<circle cx="61.6" cy="182.8" r="1.85" fill="#d5345f"/>
<circle cx="71.1" cy="183.6" r="1.85" fill="#d5345f"/>
<circle cx="78.0" cy="180.1" r="1.85" fill="#bd72a8"/>
<circle cx="85.4" cy="183.1" r="1.85" fill="#bd72a8"/>
<circle cx="92.9" cy="177.6" r="1.85" fill="#bd72a8"/>
<circle cx="94.3" cy="186.2" r="1.85" fill="#d5345f"/>
<circle cx="48.2" cy="192.0" r="1.85" fill="#bd72a8"/>
<circle cx="57.0" cy="190.8" r="1.85" fill="#d5345f"/>
<circle cx="65.1" cy="190.8" r="1.85" fill="#d5345f"/>
<circle cx="75.4" cy="191.1" r="1.85" fill="#d5345f"/>
<circle cx="82.8" cy="190.5" r="1.85" fill="#bd72a8"/>
<circle cx="69.3" cy="196.5" r="1.85" fill="#1f9c8a"/>
<circle cx="78.5" cy="199.6" r="1.85" fill="#d5345f"/>
<circle cx="87.7" cy="196.9" r="1.85" fill="#dcc27a"/>
<circle cx="53.6" cy="199.2" r="1.85" fill="#bd72a8"/>
<circle cx="62.4" cy="199.2" r="1.85" fill="#bd72a8"/>
<circle cx="46.4" cy="203.4" r="1.85" fill="#bd72a8"/>
<circle cx="54.4" cy="206.9" r="1.85" fill="#86a08e"/>
<circle cx="63.6" cy="206.5" r="1.85" fill="#bd72a8"/>
<circle cx="71.6" cy="204.9" r="1.85" fill="#dcc27a"/>
<circle cx="85.4" cy="206.1" r="1.85" fill="#d5345f"/>
<circle cx="92.2" cy="208.8" r="1.85" fill="#bd72a8"/>
<circle cx="71.6" cy="211.8" r="1.85" fill="#a094c4"/>
<circle cx="78.3" cy="212.6" r="1.85" fill="#ecc9a3"/>
<circle cx="48.4" cy="214.3" r="1.85" fill="#bd72a8"/>
<circle cx="91.0" cy="161.9" r="1.85" fill="#bd72a8"/>
<circle cx="107.9" cy="159.6" r="1.85" fill="#eeb3c3"/>
<circle cx="102.8" cy="165.3" r="1.85" fill="#1f9c8a"/>
<circle cx="103.9" cy="173.9" r="1.85" fill="#bd72a8"/>
<circle cx="105.6" cy="183.4" r="1.85" fill="#4a74b8"/>
<circle cx="96.2" cy="193.8" r="1.85" fill="#dcdad2"/>
<circle cx="106.6" cy="193.1" r="1.85" fill="#2a6e44"/>
<circle cx="97.6" cy="201.8" r="1.85" fill="#bd72a8"/>
<circle cx="107.9" cy="201.4" r="1.85" fill="#bd72a8"/>
<circle cx="57.5" cy="215.9" r="1.85" fill="#86a08e"/>
<circle cx="64.4" cy="214.7" r="1.85" fill="#bd72a8"/>
<circle cx="85.7" cy="215.2" r="1.85" fill="#ecc9a3"/>
<circle cx="93.8" cy="216.4" r="1.85" fill="#86a08e"/>
<circle cx="102.5" cy="210.0" r="1.85" fill="#bd72a8"/>
<circle cx="112.8" cy="208.3" r="1.85" fill="#bd72a8"/>
<circle cx="107.7" cy="216.4" r="1.85" fill="#ecc9a3"/>
<circle cx="116.3" cy="215.9" r="1.85" fill="#1f9c8a"/>
<circle cx="59.2" cy="222.2" r="1.85" fill="#bd72a8"/>
<circle cx="70.1" cy="220.8" r="1.85" fill="#c3a6cc"/>
<circle cx="77.5" cy="222.2" r="1.85" fill="#c3a6cc"/>
<circle cx="84.5" cy="223.4" r="1.85" fill="#ecc9a3"/>
<circle cx="100.7" cy="221.6" r="1.85" fill="#27a248"/>
<circle cx="109.4" cy="223.9" r="1.85" fill="#e59f62"/>
<circle cx="119.8" cy="221.1" r="1.85" fill="#a2c45e"/>
<circle cx="125.5" cy="222.8" r="1.85" fill="#eeb3c3"/>
<circle cx="65.8" cy="226.0" r="1.85" fill="#bd72a8"/>
<circle cx="92.6" cy="226.0" r="1.85" fill="#bd72a8"/>
<circle cx="115.6" cy="227.7" r="1.85" fill="#86a08e"/>
<circle cx="73.0" cy="229.4" r="1.85" fill="#8f6a3e"/>
<circle cx="80.5" cy="231.5" r="1.85" fill="#5b3c96"/>
<circle cx="86.5" cy="231.2" r="1.85" fill="#eeb3c3"/>
<circle cx="104.2" cy="229.8" r="1.85" fill="#1aa8d0"/>
<circle cx="129.5" cy="229.4" r="1.85" fill="#b22a55"/>
<circle cx="121.2" cy="232.5" r="1.85" fill="#1f9c8a"/>
<circle cx="92.1" cy="236.0" r="1.85" fill="#eeb3c3"/>
<circle cx="98.3" cy="234.3" r="1.85" fill="#bd72a8"/>
<circle cx="110.4" cy="234.3" r="1.85" fill="#ecc9a3"/>
<circle cx="104.7" cy="238.4" r="1.85" fill="#bd72a8"/>
<circle cx="116.3" cy="238.9" r="1.85" fill="#bd72a8"/>
<circle cx="126.7" cy="238.4" r="1.85" fill="#1f9c8a"/>
<circle cx="133.6" cy="237.2" r="1.85" fill="#1f9c8a"/>
<circle cx="136.3" cy="230.3" r="1.85" fill="#5b3c96"/>
<circle cx="142.5" cy="234.6" r="1.85" fill="#ecc9a3"/>
<circle cx="150.2" cy="233.7" r="1.85" fill="#ecc9a3"/>
<circle cx="90.0" cy="87.7" r="1.85" fill="#dcc27a"/>
<circle cx="107.7" cy="89.5" r="1.85" fill="#dcc27a"/>
<circle cx="103.4" cy="93.8" r="1.85" fill="#dcc27a"/>
<circle cx="123.6" cy="91.4" r="1.85" fill="#ecc9a3"/>
<circle cx="134.1" cy="91.4" r="1.85" fill="#ecc9a3"/>
<circle cx="148.8" cy="88.3" r="1.85" fill="#bd72a8"/>
<circle cx="86.4" cy="102.0" r="1.85" fill="#e0648e"/>
<circle cx="94.8" cy="102.0" r="1.85" fill="#e0648e"/>
<circle cx="105.3" cy="105.7" r="1.85" fill="#a274a8"/>
<circle cx="121.8" cy="101.7" r="1.85" fill="#dcdad2"/>
<circle cx="138.9" cy="98.7" r="1.85" fill="#3a3f88"/>
<circle cx="146.9" cy="101.1" r="1.85" fill="#3a3f88"/>
<circle cx="132.2" cy="105.3" r="1.85" fill="#3a3f88"/>
<circle cx="109.5" cy="113.0" r="1.85" fill="#a274a8"/>
<circle cx="118.1" cy="111.2" r="1.85" fill="#3a3f88"/>
<circle cx="135.6" cy="114.5" r="1.85" fill="#dcdad2"/>
<circle cx="146.2" cy="113.0" r="1.85" fill="#e59f62"/>
<circle cx="109.5" cy="125.5" r="1.85" fill="#b22a55"/>
<circle cx="124.9" cy="119.4" r="1.85" fill="#93cbc9"/>
<circle cx="108.0" cy="131.7" r="1.85" fill="#eeb3c3"/>
<circle cx="122.3" cy="136.0" r="1.85" fill="#ecc9a3"/>
<circle cx="85.1" cy="142.4" r="1.85" fill="#b22a55"/>
<circle cx="91.9" cy="144.6" r="1.85" fill="#eeb3c3"/>
<circle cx="109.5" cy="142.4" r="1.85" fill="#eeb3c3"/>
<circle cx="118.1" cy="147.0" r="1.85" fill="#a2c45e"/>
<circle cx="99.8" cy="150.6" r="1.85" fill="#6fae46"/>
<circle cx="82.3" cy="157.4" r="1.85" fill="#1f9c8a"/>
<circle cx="157.7" cy="89.5" r="1.85" fill="#bd72a8"/>
<circle cx="187.6" cy="87.7" r="1.85" fill="#1aa8d0"/>
<circle cx="198.1" cy="91.0" r="1.85" fill="#d5345f"/>
<circle cx="206.5" cy="88.3" r="1.85" fill="#d5345f"/>
<circle cx="219.4" cy="88.3" r="1.85" fill="#dcc27a"/>
<circle cx="169.8" cy="93.8" r="1.85" fill="#1aa8d0"/>
<circle cx="170.6" cy="99.8" r="1.85" fill="#5b3c96"/>
<circle cx="188.2" cy="100.6" r="1.85" fill="#5b3c96"/>
<circle cx="212.0" cy="97.4" r="1.85" fill="#b9bd3c"/>
<circle cx="223.0" cy="95.6" r="1.85" fill="#d5345f"/>
<circle cx="155.1" cy="102.9" r="1.85" fill="#3a3f88"/>
<circle cx="198.1" cy="103.5" r="1.85" fill="#b9bd3c"/>
<circle cx="218.3" cy="103.5" r="1.85" fill="#bd72a8"/>
<circle cx="226.7" cy="105.7" r="1.85" fill="#d5345f"/>
<circle cx="164.7" cy="109.4" r="1.85" fill="#1aa8d0"/>
<circle cx="179.0" cy="107.5" r="1.85" fill="#5b3c96"/>
<circle cx="206.5" cy="106.6" r="1.85" fill="#b9bd3c"/>
<circle cx="155.9" cy="113.0" r="1.85" fill="#3a3f88"/>
<circle cx="191.8" cy="111.2" r="1.85" fill="#86a08e"/>
<circle cx="212.8" cy="113.9" r="1.85" fill="#1f9c8a"/>
<circle cx="223.0" cy="113.4" r="1.85" fill="#1f9c8a"/>
<circle cx="168.0" cy="120.0" r="1.85" fill="#b9bd3c"/>
<circle cx="175.7" cy="117.6" r="1.85" fill="#6f7e52"/>
<circle cx="185.2" cy="118.2" r="1.85" fill="#bd72a8"/>
<circle cx="195.0" cy="118.9" r="1.85" fill="#ecc9a3"/>
<circle cx="203.6" cy="118.9" r="1.85" fill="#1f9c8a"/>
<circle cx="215.1" cy="124.4" r="1.85" fill="#1f9c8a"/>
<circle cx="224.9" cy="121.3" r="1.85" fill="#1f9c8a"/>
<circle cx="179.7" cy="127.3" r="1.85" fill="#6f7e52"/>
<circle cx="190.4" cy="129.5" r="1.85" fill="#ecc9a3"/>
<circle cx="206.5" cy="129.5" r="1.85" fill="#ecc9a3"/>
<circle cx="228.5" cy="127.7" r="1.85" fill="#d5345f"/>
<circle cx="198.1" cy="135.0" r="1.85" fill="#b8d6a0"/>
<circle cx="214.2" cy="133.6" r="1.85" fill="#3a3f88"/>
<circle cx="220.6" cy="135.0" r="1.85" fill="#a9c7df"/>
<circle cx="228.0" cy="135.0" r="1.85" fill="#bd72a8"/>
<circle cx="191.3" cy="141.5" r="1.85" fill="#93cbc9"/>
<circle cx="199.2" cy="143.9" r="1.85" fill="#a9c7df"/>
<circle cx="209.1" cy="139.6" r="1.85" fill="#bd72a8"/>
<circle cx="216.4" cy="143.3" r="1.85" fill="#a9c7df"/>
<circle cx="225.6" cy="143.3" r="1.85" fill="#a9c7df"/>
<circle cx="201.7" cy="149.4" r="1.85" fill="#a094c4"/>
<circle cx="209.1" cy="147.0" r="1.85" fill="#bd72a8"/>
<circle cx="216.4" cy="150.1" r="1.85" fill="#bd72a8"/>
<circle cx="224.9" cy="151.6" r="1.85" fill="#bd72a8"/>
<circle cx="198.1" cy="155.6" r="1.85" fill="#2a8fbf"/>
<circle cx="206.5" cy="154.9" r="1.85" fill="#dcc27a"/>
<circle cx="214.2" cy="158.5" r="1.85" fill="#93cbc9"/>
<circle cx="223.4" cy="158.1" r="1.85" fill="#6fae46"/>
<circle cx="206.1" cy="164.6" r="1.85" fill="#4a74b8"/>
<circle cx="220.5" cy="167.0" r="1.85" fill="#e59f62"/>
<circle cx="212.6" cy="170.2" r="1.85" fill="#dcc27a"/>
<circle cx="209.4" cy="176.7" r="1.85" fill="#5b3c96"/>
<circle cx="217.4" cy="175.7" r="1.85" fill="#5b3c96"/>
<circle cx="211.4" cy="183.9" r="1.85" fill="#a274a8"/>
<circle cx="208.5" cy="190.7" r="1.85" fill="#a274a8"/>
<circle cx="136.5" cy="132.2" r="2.9" fill="#1aa8d0"/>
<circle cx="145.2" cy="132.8" r="2.9" fill="#5b3c96"/>
<circle cx="155.5" cy="131.6" r="2.9" fill="#d5345f"/>
<circle cx="162.3" cy="131.6" r="2.9" fill="#d6d230"/>
<circle cx="171.1" cy="153.9" r="2.9" fill="#1aa8d0"/>
<circle cx="181.9" cy="157.6" r="2.9" fill="#4a74b8"/>
<circle cx="172.0" cy="160.5" r="2.9" fill="#1aa8d0"/>
<circle cx="139.6" cy="158.4" r="2.9" fill="#ecc9a3"/>
<circle cx="140.6" cy="165.8" r="2.9" fill="#1aa8d0"/>
<circle cx="134.8" cy="169.3" r="2.9" fill="#ecc9a3"/>
<circle cx="127.8" cy="170.8" r="2.9" fill="#1aa8d0"/>
<circle cx="178.1" cy="170.0" r="2.9" fill="#1aa8d0"/>
<circle cx="191.1" cy="186.9" r="2.9" fill="#1aa8d0"/>
<circle cx="186.4" cy="191.4" r="2.9" fill="#86a08e"/>
<circle cx="185.6" cy="196.1" r="2.9" fill="#1aa8d0"/>
<circle cx="128.2" cy="195.5" r="2.9" fill="#1aa8d0"/>
<circle cx="132.0" cy="199.6" r="2.9" fill="#1aa8d0"/>
<circle cx="133.4" cy="204.4" r="2.9" fill="#86a08e"/>
<circle cx="154.6" cy="208.5" r="2.9" fill="#d6d230"/>
<circle cx="164.3" cy="209.5" r="2.9" fill="#1aa8d0"/>
<circle cx="155.5" cy="213.7" r="2.9" fill="#1aa8d0"/>
<circle cx="169.5" cy="213.2" r="2.9" fill="#d6d230"/>
<circle cx="92.6" cy="118.6" r="2.8" fill="#e0648e"/>
<circle cx="86.2" cy="123.2" r="2.8" fill="#e0648e"/>
<g font-family="Liberation Sans, sans-serif" font-size="7.1" fill="#262626" stroke="#262626" stroke-width="0.12">
<circle cx="240" cy="25.8" r="3.3" fill="#14aad2"/>
<text x="246.0" y="24.2">chronic obstructive</text>
<text x="246.0" y="30.9">pulmonary disease</text>
<circle cx="240" cy="37.6" r="3.3" fill="#f0c8a0"/>
<text x="247.2" y="39.5">unknown</text>
<circle cx="240" cy="47.2" r="3.3" fill="#d278aa"/>
<text x="247.2" y="49.4">colorectal cancer</text>
<circle cx="240" cy="56.5" r="3.3" fill="#4678be"/>
<text x="247.2" y="58.6">pulmonary emphysema</text>
<circle cx="240" cy="66.1" r="3.3" fill="#e15a8c"/>
<text x="247.2" y="68.3">acute leukemia</text>
<circle cx="240" cy="76.1" r="3.3" fill="#cdd232"/>
<text x="247.2" y="78.1">lung disease</text>
<circle cx="240" cy="173.8" r="3.3" fill="#dc325a"/>
<text x="246.8" y="175.8">cancer</text>
<circle cx="240" cy="183.5" r="3.3" fill="#5a3c96"/>
<text x="246.8" y="185.4">lung adenocarcinoma</text>
<circle cx="240" cy="193.6" r="3.3" fill="#a0c864"/>
<text x="246.8" y="195.4">leukemia</text>
<circle cx="240" cy="202.2" r="3.3" fill="#b42850"/>
<text x="246.8" y="204.2">myelodysplastic syndrome</text>
<circle cx="240" cy="212.4" r="3.3" fill="#f0b4c3"/>
<text x="246.8" y="213.9">acute myeloid leukemia</text>
<circle cx="240" cy="221.5" r="3.3" fill="#14a08c"/>
<text x="246.8" y="223.6">colon cancer</text>
<circle cx="240" cy="230.8" r="3.3" fill="#ebd71e"/>
<text x="246.8" y="232.7">toxic shock syndrome</text>
</g>
<rect x="244.3" y="96.8" width="100.4" height="51" fill="#fff" stroke="#8c8c8c" stroke-width="0.9"/>
<g font-family="Liberation Sans, sans-serif" font-size="6.75" fill="#222">
<text x="250.5" y="106.5" font-weight="bold">Network Overview</text>
<text x="250.5" y="115.6"><tspan font-style="italic">Nodes</tspan>: 406</text>
<text x="250.5" y="124.7"><tspan font-style="italic">Edges</tspan>: 663</text>
<text x="250.5" y="133.6"><tspan font-style="italic">Average node degree</tspan>: 3.3</text>
<text x="250.5" y="142.6"><tspan font-style="italic">Connected components</tspan>: 120</text>
</g>
<rect x="358.7" y="8.1" width="158.3" height="100.4" fill="#fff" stroke="#cfcfcf" stroke-width="0.7"/>
<g stroke="#ececec" stroke-width="0.4" stroke-dasharray="1,1">
<line x1="371.40" y1="8.1" x2="371.40" y2="108.5"/>
<line x1="377.75" y1="8.1" x2="377.75" y2="108.5"/>
<line x1="384.09" y1="8.1" x2="384.09" y2="108.5"/>
<line x1="390.44" y1="8.1" x2="390.44" y2="108.5"/>
<line x1="396.78" y1="8.1" x2="396.78" y2="108.5"/>
<line x1="403.12" y1="8.1" x2="403.12" y2="108.5"/>
<line x1="409.47" y1="8.1" x2="409.47" y2="108.5"/>
<line x1="415.81" y1="8.1" x2="415.81" y2="108.5"/>
<line x1="422.16" y1="8.1" x2="422.16" y2="108.5"/>
<line x1="428.50" y1="8.1" x2="428.50" y2="108.5"/>
<line x1="434.85" y1="8.1" x2="434.85" y2="108.5"/>
<line x1="441.19" y1="8.1" x2="441.19" y2="108.5"/>
<line x1="447.54" y1="8.1" x2="447.54" y2="108.5"/>
<line x1="453.88" y1="8.1" x2="453.88" y2="108.5"/>
<line x1="460.23" y1="8.1" x2="460.23" y2="108.5"/>
<line x1="466.57" y1="8.1" x2="466.57" y2="108.5"/>
<line x1="472.92" y1="8.1" x2="472.92" y2="108.5"/>
<line x1="479.26" y1="8.1" x2="479.26" y2="108.5"/>
<line x1="485.61" y1="8.1" x2="485.61" y2="108.5"/>
<line x1="491.95" y1="8.1" x2="491.95" y2="108.5"/>
<line x1="498.30" y1="8.1" x2="498.30" y2="108.5"/>
<line x1="504.64" y1="8.1" x2="504.64" y2="108.5"/>
<line x1="510.99" y1="8.1" x2="510.99" y2="108.5"/>
<line x1="358.7" y1="104.10" x2="517" y2="104.10"/>
<line x1="358.7" y1="82.50" x2="517" y2="82.50"/>
<line x1="358.7" y1="60.90" x2="517" y2="60.90"/>
<line x1="358.7" y1="39.40" x2="517" y2="39.40"/>
<line x1="358.7" y1="17.80" x2="517" y2="17.80"/>
</g>
<rect x="369.00" y="13.00" width="4.8" height="90.70" fill="#5a6f85" stroke="#465769" stroke-width="0.35"/>
<rect x="375.35" y="70.00" width="4.8" height="33.70" fill="#5a6f85" stroke="#465769" stroke-width="0.35"/>
<rect x="381.69" y="73.10" width="4.8" height="30.60" fill="#5a6f85" stroke="#465769" stroke-width="0.35"/>
<rect x="388.04" y="81.00" width="4.8" height="22.70" fill="#5a6f85" stroke="#465769" stroke-width="0.35"/>
<rect x="394.38" y="93.70" width="4.8" height="10.00" fill="#5a6f85" stroke="#465769" stroke-width="0.35"/>
<rect x="400.73" y="93.70" width="4.8" height="10.00" fill="#5a6f85" stroke="#465769" stroke-width="0.35"/>
<rect x="407.07" y="100.20" width="4.8" height="3.50" fill="#5a6f85" stroke="#465769" stroke-width="0.35"/>
<rect x="413.42" y="103.10" width="4.8" height="0.60" fill="#5a6f85" stroke="#465769" stroke-width="0.35"/>
<rect x="426.11" y="102.10" width="4.8" height="1.60" fill="#5a6f85" stroke="#465769" stroke-width="0.35"/>
<rect x="438.80" y="103.20" width="4.8" height="0.60" fill="#5a6f85" stroke="#465769" stroke-width="0.35"/>
<rect x="470.52" y="97.70" width="4.8" height="6.00" fill="#5a6f85" stroke="#465769" stroke-width="0.35"/>
<rect x="476.87" y="103.10" width="4.8" height="0.60" fill="#5a6f85" stroke="#465769" stroke-width="0.35"/>
<rect x="495.90" y="101.20" width="4.8" height="2.50" fill="#5a6f85" stroke="#465769" stroke-width="0.35"/>
<rect x="508.59" y="102.60" width="4.8" height="1.10" fill="#5a6f85" stroke="#465769" stroke-width="0.35"/>
<text x="404.2" y="6.5" font-family="Liberation Sans, sans-serif" font-size="5.75" font-weight="bold" fill="#111">Node degree distribution</text>
<g font-family="Liberation Sans, sans-serif" font-size="5.9" fill="#3a3a3a" stroke="#3a3a3a" stroke-width="0.08" text-anchor="end">
<text x="357.59999999999997" y="106.20">0.0</text>
<text x="357.59999999999997" y="84.60">0.1</text>
<text x="357.59999999999997" y="63.00">0.2</text>
<text x="357.59999999999997" y="41.50">0.3</text>
<text x="357.59999999999997" y="19.90">0.4</text>
</g>
<g font-family="Liberation Sans, sans-serif" font-size="4.4" fill="#4a4a4a" text-anchor="middle">
<text x="371.40" y="112.3">1</text>
<text x="377.75" y="112.3">2</text>
<text x="384.09" y="112.3">3</text>
<text x="390.44" y="112.3">4</text>
<text x="396.78" y="112.3">5</text>
<text x="403.12" y="112.3">6</text>
<text x="409.47" y="112.3">7</text>
<text x="415.81" y="112.3">8</text>
<text x="422.16" y="112.3">9</text>
<text x="428.50" y="112.3">10</text>
<text x="434.85" y="112.3">11</text>
<text x="441.19" y="112.3">12</text>
<text x="447.54" y="112.3">13</text>
<text x="453.88" y="112.3">14</text>
<text x="460.23" y="112.3">15</text>
<text x="466.57" y="112.3">16</text>
<text x="472.92" y="112.3">17</text>
<text x="479.26" y="112.3">18</text>
<text x="485.61" y="112.3">19</text>
<text x="491.95" y="112.3">20</text>
<text x="498.30" y="112.3">21</text>
<text x="504.64" y="112.3">22</text>
<text x="510.99" y="112.3">23</text>
</g>
<text x="437.7" y="118.2" font-family="Liberation Sans, sans-serif" font-size="5.7" fill="#1a1a1a" stroke="#1a1a1a" stroke-width="0.12" text-anchor="middle">degree</text>
<text transform="translate(349.2,58.4) rotate(-90)" font-family="Liberation Sans, sans-serif" font-size="5.72" fill="#1a1a1a" stroke="#1a1a1a" stroke-width="0.12" text-anchor="middle">fraction of nodes</text>
<rect x="359.2" y="135.4" width="158.50000000000006" height="100.0" fill="#fff" stroke="#cfcfcf" stroke-width="0.7"/>
<g stroke="#ececec" stroke-width="0.4" stroke-dasharray="1,1">
<line x1="370.95" y1="135.4" x2="370.95" y2="235.4"/>
<line x1="376.80" y1="135.4" x2="376.80" y2="235.4"/>
<line x1="382.65" y1="135.4" x2="382.65" y2="235.4"/>
<line x1="388.50" y1="135.4" x2="388.50" y2="235.4"/>
<line x1="394.35" y1="135.4" x2="394.35" y2="235.4"/>
<line x1="400.20" y1="135.4" x2="400.20" y2="235.4"/>
<line x1="406.05" y1="135.4" x2="406.05" y2="235.4"/>
<line x1="411.90" y1="135.4" x2="411.90" y2="235.4"/>
<line x1="417.75" y1="135.4" x2="417.75" y2="235.4"/>
<line x1="423.60" y1="135.4" x2="423.60" y2="235.4"/>
<line x1="429.45" y1="135.4" x2="429.45" y2="235.4"/>
<line x1="435.30" y1="135.4" x2="435.30" y2="235.4"/>
<line x1="441.15" y1="135.4" x2="441.15" y2="235.4"/>
<line x1="447.00" y1="135.4" x2="447.00" y2="235.4"/>
<line x1="452.85" y1="135.4" x2="452.85" y2="235.4"/>
<line x1="458.70" y1="135.4" x2="458.70" y2="235.4"/>
<line x1="464.55" y1="135.4" x2="464.55" y2="235.4"/>
<line x1="470.40" y1="135.4" x2="470.40" y2="235.4"/>
<line x1="476.25" y1="135.4" x2="476.25" y2="235.4"/>
<line x1="482.10" y1="135.4" x2="482.10" y2="235.4"/>
<line x1="487.95" y1="135.4" x2="487.95" y2="235.4"/>
<line x1="493.80" y1="135.4" x2="493.80" y2="235.4"/>
<line x1="499.65" y1="135.4" x2="499.65" y2="235.4"/>
<line x1="505.50" y1="135.4" x2="505.50" y2="235.4"/>
<line x1="511.35" y1="135.4" x2="511.35" y2="235.4"/>
<line x1="359.2" y1="231.20" x2="517.7" y2="231.20"/>
<line x1="359.2" y1="198.50" x2="517.7" y2="198.50"/>
<line x1="359.2" y1="166.40" x2="517.7" y2="166.40"/>
</g>
<rect x="374.50" y="140.20" width="4.6" height="90.50" fill="#a8291e" stroke="#7c1d16" stroke-width="0.35"/>
<rect x="380.35" y="201.20" width="4.6" height="29.50" fill="#a8291e" stroke="#7c1d16" stroke-width="0.35"/>
<rect x="386.20" y="216.30" width="4.6" height="14.40" fill="#a8291e" stroke="#7c1d16" stroke-width="0.35"/>
<rect x="392.05" y="221.70" width="4.6" height="9.00" fill="#a8291e" stroke="#7c1d16" stroke-width="0.35"/>
<rect x="397.90" y="224.40" width="4.6" height="6.30" fill="#a8291e" stroke="#7c1d16" stroke-width="0.35"/>
<rect x="403.75" y="225.60" width="4.6" height="5.10" fill="#a8291e" stroke="#7c1d16" stroke-width="0.35"/>
<rect x="427.15" y="229.50" width="4.6" height="1.20" fill="#a8291e" stroke="#7c1d16" stroke-width="0.35"/>
<rect x="438.85" y="229.50" width="4.6" height="1.20" fill="#a8291e" stroke="#7c1d16" stroke-width="0.35"/>
<rect x="479.80" y="229.50" width="4.6" height="1.20" fill="#a8291e" stroke="#7c1d16" stroke-width="0.35"/>
<rect x="509.05" y="229.50" width="4.6" height="1.20" fill="#a8291e" stroke="#7c1d16" stroke-width="0.35"/>
<text x="399.9" y="133.7" font-family="Liberation Sans, sans-serif" font-size="5.75" font-weight="bold" fill="#111">Component size distribution</text>
<g font-family="Liberation Sans, sans-serif" font-size="5.9" fill="#3a3a3a" stroke="#3a3a3a" stroke-width="0.08" text-anchor="end">
<text x="358.09999999999997" y="233.30">0.0</text>
<text x="358.09999999999997" y="200.60">0.2</text>
<text x="358.09999999999997" y="168.50">0.4</text>
</g>
<g font-family="Liberation Sans, sans-serif" font-size="4.3" fill="#4a4a4a" text-anchor="middle">
<text x="370.95" y="239.3">1</text>
<text x="376.80" y="239.3">2</text>
<text x="382.65" y="239.3">3</text>
<text x="388.50" y="239.3">4</text>
<text x="394.35" y="239.3">5</text>
<text x="400.20" y="239.3">6</text>
<text x="406.05" y="239.3">7</text>
<text x="411.90" y="239.3">8</text>
<text x="417.75" y="239.3">9</text>
<text x="423.60" y="239.3">10</text>
<text x="429.45" y="239.3">11</text>
<text x="435.30" y="239.3">12</text>
<text x="441.15" y="239.3">13</text>
<text x="447.00" y="239.3">14</text>
<text x="452.85" y="239.3">15</text>
<text x="458.70" y="239.3">16</text>
<text x="464.55" y="239.3">17</text>
<text x="470.40" y="239.3">18</text>
<text x="476.25" y="239.3">19</text>
<text x="482.10" y="239.3">20</text>
<text x="487.95" y="239.3">21</text>
<text x="493.80" y="239.3">22</text>
<text x="499.65" y="239.3">23</text>
<text x="505.50" y="239.3">24</text>
<text x="511.35" y="239.3">25</text>
</g>
<text x="438.2" y="245.3" font-family="Liberation Sans, sans-serif" font-size="5.7" fill="#1a1a1a" stroke="#1a1a1a" stroke-width="0.12" text-anchor="middle">component size</text>
<text transform="translate(348.3,185.5) rotate(-90)" font-family="Liberation Sans, sans-serif" font-size="5.72" fill="#1a1a1a" stroke="#1a1a1a" stroke-width="0.12" text-anchor="middle">fraction of components</text>
<g font-family="Liberation Sans, sans-serif" font-size="9.7" fill="#1e1e1e" stroke="#1e1e1e" stroke-width="0.18">
<text x="57.7" y="265.8">Lung diseases</text><text x="57.7" y="278.8">Clique size: 18</text>
<text x="201.5" y="265.8">Lung diseases</text><text x="201.5" y="278.8">Clique size: 11</text>
<text x="321.7" y="265.8">Blood diseases</text><text x="321.7" y="278.8">Clique size: 8</text>
<text x="423.7" y="265.8">Colorectal cancer</text><text x="423.7" y="278.8">Clique size: 7</text>
</g>
<g stroke="#f2b85e" stroke-width="0.45" opacity="0.75">
<line x1="79.3" y1="313.8" x2="55" y2="328.3"/>
<line x1="79.3" y1="313.8" x2="100" y2="325.2"/>
<line x1="79.3" y1="313.8" x2="111.1" y2="339.8"/>
<line x1="79.3" y1="313.8" x2="34.9" y2="342.2"/>
<line x1="79.3" y1="313.8" x2="79.4" y2="343.2"/>
<line x1="79.3" y1="313.8" x2="58.5" y2="354.3"/>
<line x1="79.3" y1="313.8" x2="119.1" y2="359.5"/>
<line x1="79.3" y1="313.8" x2="94.9" y2="361.2"/>
<line x1="79.3" y1="313.8" x2="32.5" y2="365.7"/>
<line x1="79.3" y1="313.8" x2="75.1" y2="367.1"/>
<line x1="79.3" y1="313.8" x2="60.2" y2="382.7"/>
<line x1="79.3" y1="313.8" x2="39.4" y2="386.1"/>
<line x1="79.3" y1="313.8" x2="94.9" y2="385.5"/>
<line x1="79.3" y1="313.8" x2="120.1" y2="383.7"/>
<line x1="79.3" y1="313.8" x2="57.8" y2="402.8"/>
<line x1="79.3" y1="313.8" x2="108.7" y2="406.9"/>
<line x1="79.3" y1="313.8" x2="84.5" y2="410.4"/>
<line x1="55" y1="328.3" x2="100" y2="325.2"/>
<line x1="55" y1="328.3" x2="111.1" y2="339.8"/>
<line x1="55" y1="328.3" x2="34.9" y2="342.2"/>
<line x1="55" y1="328.3" x2="79.4" y2="343.2"/>
<line x1="55" y1="328.3" x2="58.5" y2="354.3"/>
<line x1="55" y1="328.3" x2="119.1" y2="359.5"/>
<line x1="55" y1="328.3" x2="94.9" y2="361.2"/>
<line x1="55" y1="328.3" x2="32.5" y2="365.7"/>
<line x1="55" y1="328.3" x2="75.1" y2="367.1"/>
<line x1="55" y1="328.3" x2="60.2" y2="382.7"/>
<line x1="55" y1="328.3" x2="39.4" y2="386.1"/>
<line x1="55" y1="328.3" x2="94.9" y2="385.5"/>
<line x1="55" y1="328.3" x2="120.1" y2="383.7"/>
<line x1="55" y1="328.3" x2="57.8" y2="402.8"/>
<line x1="55" y1="328.3" x2="108.7" y2="406.9"/>
<line x1="55" y1="328.3" x2="84.5" y2="410.4"/>
<line x1="100" y1="325.2" x2="111.1" y2="339.8"/>
<line x1="100" y1="325.2" x2="34.9" y2="342.2"/>
<line x1="100" y1="325.2" x2="79.4" y2="343.2"/>
<line x1="100" y1="325.2" x2="58.5" y2="354.3"/>
<line x1="100" y1="325.2" x2="119.1" y2="359.5"/>
<line x1="100" y1="325.2" x2="94.9" y2="361.2"/>
<line x1="100" y1="325.2" x2="32.5" y2="365.7"/>
<line x1="100" y1="325.2" x2="75.1" y2="367.1"/>
<line x1="100" y1="325.2" x2="60.2" y2="382.7"/>
<line x1="100" y1="325.2" x2="39.4" y2="386.1"/>
<line x1="100" y1="325.2" x2="94.9" y2="385.5"/>
<line x1="100" y1="325.2" x2="120.1" y2="383.7"/>
<line x1="100" y1="325.2" x2="57.8" y2="402.8"/>
<line x1="100" y1="325.2" x2="108.7" y2="406.9"/>
<line x1="100" y1="325.2" x2="84.5" y2="410.4"/>
<line x1="111.1" y1="339.8" x2="34.9" y2="342.2"/>
<line x1="111.1" y1="339.8" x2="79.4" y2="343.2"/>
<line x1="111.1" y1="339.8" x2="58.5" y2="354.3"/>
<line x1="111.1" y1="339.8" x2="119.1" y2="359.5"/>
<line x1="111.1" y1="339.8" x2="94.9" y2="361.2"/>
<line x1="111.1" y1="339.8" x2="32.5" y2="365.7"/>
<line x1="111.1" y1="339.8" x2="75.1" y2="367.1"/>
<line x1="111.1" y1="339.8" x2="60.2" y2="382.7"/>
<line x1="111.1" y1="339.8" x2="39.4" y2="386.1"/>
<line x1="111.1" y1="339.8" x2="94.9" y2="385.5"/>
<line x1="111.1" y1="339.8" x2="120.1" y2="383.7"/>
<line x1="111.1" y1="339.8" x2="57.8" y2="402.8"/>
<line x1="111.1" y1="339.8" x2="108.7" y2="406.9"/>
<line x1="111.1" y1="339.8" x2="84.5" y2="410.4"/>
<line x1="34.9" y1="342.2" x2="79.4" y2="343.2"/>
<line x1="34.9" y1="342.2" x2="58.5" y2="354.3"/>
<line x1="34.9" y1="342.2" x2="119.1" y2="359.5"/>
<line x1="34.9" y1="342.2" x2="94.9" y2="361.2"/>
<line x1="34.9" y1="342.2" x2="32.5" y2="365.7"/>
<line x1="34.9" y1="342.2" x2="75.1" y2="367.1"/>
<line x1="34.9" y1="342.2" x2="60.2" y2="382.7"/>
<line x1="34.9" y1="342.2" x2="39.4" y2="386.1"/>
<line x1="34.9" y1="342.2" x2="94.9" y2="385.5"/>
<line x1="34.9" y1="342.2" x2="120.1" y2="383.7"/>
<line x1="34.9" y1="342.2" x2="57.8" y2="402.8"/>
<line x1="34.9" y1="342.2" x2="108.7" y2="406.9"/>
<line x1="34.9" y1="342.2" x2="84.5" y2="410.4"/>
<line x1="79.4" y1="343.2" x2="58.5" y2="354.3"/>
<line x1="79.4" y1="343.2" x2="119.1" y2="359.5"/>
<line x1="79.4" y1="343.2" x2="94.9" y2="361.2"/>
<line x1="79.4" y1="343.2" x2="32.5" y2="365.7"/>
<line x1="79.4" y1="343.2" x2="75.1" y2="367.1"/>
<line x1="79.4" y1="343.2" x2="60.2" y2="382.7"/>
<line x1="79.4" y1="343.2" x2="39.4" y2="386.1"/>
<line x1="79.4" y1="343.2" x2="94.9" y2="385.5"/>
<line x1="79.4" y1="343.2" x2="120.1" y2="383.7"/>
<line x1="79.4" y1="343.2" x2="57.8" y2="402.8"/>
<line x1="79.4" y1="343.2" x2="108.7" y2="406.9"/>
<line x1="79.4" y1="343.2" x2="84.5" y2="410.4"/>
<line x1="58.5" y1="354.3" x2="119.1" y2="359.5"/>
<line x1="58.5" y1="354.3" x2="94.9" y2="361.2"/>
<line x1="58.5" y1="354.3" x2="32.5" y2="365.7"/>
<line x1="58.5" y1="354.3" x2="75.1" y2="367.1"/>
<line x1="58.5" y1="354.3" x2="60.2" y2="382.7"/>
<line x1="58.5" y1="354.3" x2="39.4" y2="386.1"/>
<line x1="58.5" y1="354.3" x2="94.9" y2="385.5"/>
<line x1="58.5" y1="354.3" x2="120.1" y2="383.7"/>
<line x1="58.5" y1="354.3" x2="57.8" y2="402.8"/>
<line x1="58.5" y1="354.3" x2="108.7" y2="406.9"/>
<line x1="58.5" y1="354.3" x2="84.5" y2="410.4"/>
<line x1="119.1" y1="359.5" x2="94.9" y2="361.2"/>
<line x1="119.1" y1="359.5" x2="32.5" y2="365.7"/>
<line x1="119.1" y1="359.5" x2="75.1" y2="367.1"/>
<line x1="119.1" y1="359.5" x2="60.2" y2="382.7"/>
<line x1="119.1" y1="359.5" x2="39.4" y2="386.1"/>
<line x1="119.1" y1="359.5" x2="94.9" y2="385.5"/>
<line x1="119.1" y1="359.5" x2="120.1" y2="383.7"/>
<line x1="119.1" y1="359.5" x2="57.8" y2="402.8"/>
<line x1="119.1" y1="359.5" x2="108.7" y2="406.9"/>
<line x1="119.1" y1="359.5" x2="84.5" y2="410.4"/>
<line x1="94.9" y1="361.2" x2="32.5" y2="365.7"/>
<line x1="94.9" y1="361.2" x2="75.1" y2="367.1"/>
<line x1="94.9" y1="361.2" x2="60.2" y2="382.7"/>
<line x1="94.9" y1="361.2" x2="39.4" y2="386.1"/>
<line x1="94.9" y1="361.2" x2="94.9" y2="385.5"/>
<line x1="94.9" y1="361.2" x2="120.1" y2="383.7"/>
<line x1="94.9" y1="361.2" x2="57.8" y2="402.8"/>
<line x1="94.9" y1="361.2" x2="108.7" y2="406.9"/>
<line x1="94.9" y1="361.2" x2="84.5" y2="410.4"/>
<line x1="32.5" y1="365.7" x2="75.1" y2="367.1"/>
<line x1="32.5" y1="365.7" x2="60.2" y2="382.7"/>
<line x1="32.5" y1="365.7" x2="39.4" y2="386.1"/>
<line x1="32.5" y1="365.7" x2="94.9" y2="385.5"/>
<line x1="32.5" y1="365.7" x2="120.1" y2="383.7"/>
<line x1="32.5" y1="365.7" x2="57.8" y2="402.8"/>
<line x1="32.5" y1="365.7" x2="108.7" y2="406.9"/>
<line x1="32.5" y1="365.7" x2="84.5" y2="410.4"/>
<line x1="75.1" y1="367.1" x2="60.2" y2="382.7"/>
<line x1="75.1" y1="367.1" x2="39.4" y2="386.1"/>
<line x1="75.1" y1="367.1" x2="94.9" y2="385.5"/>
<line x1="75.1" y1="367.1" x2="120.1" y2="383.7"/>
<line x1="75.1" y1="367.1" x2="57.8" y2="402.8"/>
<line x1="75.1" y1="367.1" x2="108.7" y2="406.9"/>
<line x1="75.1" y1="367.1" x2="84.5" y2="410.4"/>
<line x1="60.2" y1="382.7" x2="39.4" y2="386.1"/>
<line x1="60.2" y1="382.7" x2="94.9" y2="385.5"/>
<line x1="60.2" y1="382.7" x2="120.1" y2="383.7"/>
<line x1="60.2" y1="382.7" x2="57.8" y2="402.8"/>
<line x1="60.2" y1="382.7" x2="108.7" y2="406.9"/>
<line x1="60.2" y1="382.7" x2="84.5" y2="410.4"/>
<line x1="39.4" y1="386.1" x2="94.9" y2="385.5"/>
<line x1="39.4" y1="386.1" x2="120.1" y2="383.7"/>
<line x1="39.4" y1="386.1" x2="57.8" y2="402.8"/>
<line x1="39.4" y1="386.1" x2="108.7" y2="406.9"/>
<line x1="39.4" y1="386.1" x2="84.5" y2="410.4"/>
<line x1="94.9" y1="385.5" x2="120.1" y2="383.7"/>
<line x1="94.9" y1="385.5" x2="57.8" y2="402.8"/>
<line x1="94.9" y1="385.5" x2="108.7" y2="406.9"/>
<line x1="94.9" y1="385.5" x2="84.5" y2="410.4"/>
<line x1="120.1" y1="383.7" x2="57.8" y2="402.8"/>
<line x1="120.1" y1="383.7" x2="108.7" y2="406.9"/>
<line x1="120.1" y1="383.7" x2="84.5" y2="410.4"/>
<line x1="57.8" y1="402.8" x2="108.7" y2="406.9"/>
<line x1="57.8" y1="402.8" x2="84.5" y2="410.4"/>
<line x1="108.7" y1="406.9" x2="84.5" y2="410.4"/>
</g>
<g stroke="#8fb8e0" stroke-width="0.5" opacity="0.85">
<line x1="110.7" y1="298.4" x2="100" y2="325.2"/>
<line x1="110.7" y1="298.4" x2="79.3" y2="313.8"/>
<line x1="110.7" y1="298.4" x2="111.1" y2="339.8"/>
<line x1="128.5" y1="318.9" x2="111.1" y2="339.8"/>
<line x1="128.5" y1="318.9" x2="100" y2="325.2"/>
<line x1="128.5" y1="318.9" x2="119.1" y2="359.5"/>
<line x1="136.8" y1="345.6" x2="119.1" y2="359.5"/>
<line x1="136.8" y1="345.6" x2="111.1" y2="339.8"/>
<line x1="136.8" y1="345.6" x2="120.1" y2="383.7"/>
<line x1="135.4" y1="377.8" x2="120.1" y2="383.7"/>
<line x1="135.4" y1="377.8" x2="119.1" y2="359.5"/>
<line x1="135.4" y1="377.8" x2="108.7" y2="406.9"/>
<line x1="142.7" y1="405.5" x2="120.1" y2="383.7"/>
<line x1="142.7" y1="405.5" x2="108.7" y2="406.9"/>
<line x1="142.7" y1="405.5" x2="119.1" y2="359.5"/>
<line x1="125" y1="425.3" x2="108.7" y2="406.9"/>
<line x1="125" y1="425.3" x2="120.1" y2="383.7"/>
<line x1="125" y1="425.3" x2="84.5" y2="410.4"/>
<line x1="26.6" y1="404.5" x2="39.4" y2="386.1"/>
<line x1="26.6" y1="404.5" x2="57.8" y2="402.8"/>
<line x1="26.6" y1="404.5" x2="32.5" y2="365.7"/>
</g>
<circle cx="110.7" cy="298.4" r="7.3" fill="#8cbde6" stroke="#6aa2d4" stroke-width="0.5"/>
<text x="110.7" y="299.29999999999995" font-family="Liberation Sans, sans-serif" font-size="2.6" fill="#2a3a4a" text-anchor="middle">C0027611</text>
<circle cx="128.5" cy="318.9" r="7.3" fill="#8cbde6" stroke="#6aa2d4" stroke-width="0.5"/>
<text x="128.5" y="319.79999999999995" font-family="Liberation Sans, sans-serif" font-size="2.6" fill="#2a3a4a" text-anchor="middle">C0084606</text>
<circle cx="136.8" cy="345.6" r="7.3" fill="#8cbde6" stroke="#6aa2d4" stroke-width="0.5"/>
<text x="136.8" y="346.5" font-family="Liberation Sans, sans-serif" font-size="2.6" fill="#2a3a4a" text-anchor="middle">C0018271</text>
<circle cx="135.4" cy="377.8" r="7.3" fill="#8cbde6" stroke="#6aa2d4" stroke-width="0.5"/>
<text x="135.4" y="378.7" font-family="Liberation Sans, sans-serif" font-size="2.6" fill="#2a3a4a" text-anchor="middle">C0043432</text>
<circle cx="142.7" cy="405.5" r="7.3" fill="#8cbde6" stroke="#6aa2d4" stroke-width="0.5"/>
<text x="142.7" y="406.4" font-family="Liberation Sans, sans-serif" font-size="2.6" fill="#2a3a4a" text-anchor="middle">C0025455</text>
<circle cx="125" cy="425.3" r="7.3" fill="#8cbde6" stroke="#6aa2d4" stroke-width="0.5"/>
<text x="125" y="426.2" font-family="Liberation Sans, sans-serif" font-size="2.6" fill="#2a3a4a" text-anchor="middle">C0074937</text>
<circle cx="26.6" cy="404.5" r="7.3" fill="#8cbde6" stroke="#6aa2d4" stroke-width="0.5"/>
<text x="26.6" y="405.4" font-family="Liberation Sans, sans-serif" font-size="2.6" fill="#2a3a4a" text-anchor="middle">C0068915</text>
<circle cx="79.3" cy="313.8" r="7.3" fill="#f4a21f" stroke="#e08e10" stroke-width="0.5"/>
<text x="79.3" y="314.7" font-family="Liberation Sans, sans-serif" font-size="2.6" fill="#4a3a20" text-anchor="middle">C0071898</text>
<circle cx="55" cy="328.3" r="7.3" fill="#f4a21f" stroke="#e08e10" stroke-width="0.5"/>
<text x="55" y="329.2" font-family="Liberation Sans, sans-serif" font-size="2.6" fill="#4a3a20" text-anchor="middle">C0095405</text>
<circle cx="100" cy="325.2" r="7.3" fill="#f4a21f" stroke="#e08e10" stroke-width="0.5"/>
<text x="100" y="326.09999999999997" font-family="Liberation Sans, sans-serif" font-size="2.6" fill="#4a3a20" text-anchor="middle">C0059756</text>
<circle cx="111.1" cy="339.8" r="7.3" fill="#f4a21f" stroke="#e08e10" stroke-width="0.5"/>
<text x="111.1" y="340.7" font-family="Liberation Sans, sans-serif" font-size="2.6" fill="#4a3a20" text-anchor="middle">C0037519</text>
<circle cx="34.9" cy="342.2" r="7.3" fill="#f4a21f" stroke="#e08e10" stroke-width="0.5"/>
<text x="34.9" y="343.09999999999997" font-family="Liberation Sans, sans-serif" font-size="2.6" fill="#4a3a20" text-anchor="middle">C0022302</text>
<circle cx="79.4" cy="343.2" r="7.3" fill="#f4a21f" stroke="#e08e10" stroke-width="0.5"/>
<text x="79.4" y="344.09999999999997" font-family="Liberation Sans, sans-serif" font-size="2.6" fill="#4a3a20" text-anchor="middle">C0073944</text>
<circle cx="58.5" cy="354.3" r="7.3" fill="#f4a21f" stroke="#e08e10" stroke-width="0.5"/>
<text x="58.5" y="355.2" font-family="Liberation Sans, sans-serif" font-size="2.6" fill="#4a3a20" text-anchor="middle">C0013715</text>
<circle cx="119.1" cy="359.5" r="7.3" fill="#f4a21f" stroke="#e08e10" stroke-width="0.5"/>
<text x="119.1" y="360.4" font-family="Liberation Sans, sans-serif" font-size="2.6" fill="#4a3a20" text-anchor="middle">C0061093</text>
<circle cx="94.9" cy="361.2" r="7.3" fill="#f4a21f" stroke="#e08e10" stroke-width="0.5"/>
<text x="94.9" y="362.09999999999997" font-family="Liberation Sans, sans-serif" font-size="2.6" fill="#4a3a20" text-anchor="middle">C0066723</text>
<circle cx="32.5" cy="365.7" r="7.3" fill="#f4a21f" stroke="#e08e10" stroke-width="0.5"/>
<text x="32.5" y="366.59999999999997" font-family="Liberation Sans, sans-serif" font-size="2.6" fill="#4a3a20" text-anchor="middle">C0089618</text>
<circle cx="75.1" cy="367.1" r="7.3" fill="#f4a21f" stroke="#e08e10" stroke-width="0.5"/>
<text x="75.1" y="368.0" font-family="Liberation Sans, sans-serif" font-size="2.6" fill="#4a3a20" text-anchor="middle">C0010276</text>
<circle cx="60.2" cy="382.7" r="7.3" fill="#f4a21f" stroke="#e08e10" stroke-width="0.5"/>
<text x="60.2" y="383.59999999999997" font-family="Liberation Sans, sans-serif" font-size="2.6" fill="#4a3a20" text-anchor="middle">C0068377</text>
<circle cx="39.4" cy="386.1" r="7.3" fill="#f4a21f" stroke="#e08e10" stroke-width="0.5"/>
<text x="39.4" y="387.0" font-family="Liberation Sans, sans-serif" font-size="2.6" fill="#4a3a20" text-anchor="middle">C0044908</text>
<circle cx="94.9" cy="385.5" r="7.3" fill="#f4a21f" stroke="#e08e10" stroke-width="0.5"/>
<text x="94.9" y="386.4" font-family="Liberation Sans, sans-serif" font-size="2.6" fill="#4a3a20" text-anchor="middle">C0039984</text>
<circle cx="120.1" cy="383.7" r="7.3" fill="#f4a21f" stroke="#e08e10" stroke-width="0.5"/>
<text x="120.1" y="384.59999999999997" font-family="Liberation Sans, sans-serif" font-size="2.6" fill="#4a3a20" text-anchor="middle">C0087483</text>
<circle cx="57.8" cy="402.8" r="7.3" fill="#f4a21f" stroke="#e08e10" stroke-width="0.5"/>
<text x="57.8" y="403.7" font-family="Liberation Sans, sans-serif" font-size="2.6" fill="#4a3a20" text-anchor="middle">C0023399</text>
<circle cx="108.7" cy="406.9" r="7.3" fill="#f4a21f" stroke="#e08e10" stroke-width="0.5"/>
<text x="108.7" y="407.79999999999995" font-family="Liberation Sans, sans-serif" font-size="2.6" fill="#4a3a20" text-anchor="middle">C0051606</text>
<circle cx="84.5" cy="410.4" r="7.3" fill="#f4a21f" stroke="#e08e10" stroke-width="0.5"/>
<text x="84.5" y="411.29999999999995" font-family="Liberation Sans, sans-serif" font-size="2.6" fill="#4a3a20" text-anchor="middle">C0014009</text>
<g stroke="#f2b85e" stroke-width="0.45" opacity="0.75">
<line x1="224.4" y1="327.8" x2="241.3" y2="331"/>
<line x1="224.4" y1="327.8" x2="210.6" y2="339"/>
<line x1="224.4" y1="327.8" x2="196.8" y2="357"/>
<line x1="224.4" y1="327.8" x2="224.8" y2="353.7"/>
<line x1="224.4" y1="327.8" x2="248.7" y2="353.1"/>
<line x1="224.4" y1="327.8" x2="261.4" y2="373.1"/>
<line x1="224.4" y1="327.8" x2="236.3" y2="375.4"/>
<line x1="224.4" y1="327.8" x2="213.6" y2="378.7"/>
<line x1="224.4" y1="327.8" x2="250.4" y2="395.5"/>
<line x1="224.4" y1="327.8" x2="236.3" y2="399.5"/>
<line x1="241.3" y1="331" x2="210.6" y2="339"/>
<line x1="241.3" y1="331" x2="196.8" y2="357"/>
<line x1="241.3" y1="331" x2="224.8" y2="353.7"/>
<line x1="241.3" y1="331" x2="248.7" y2="353.1"/>
<line x1="241.3" y1="331" x2="261.4" y2="373.1"/>
<line x1="241.3" y1="331" x2="236.3" y2="375.4"/>
<line x1="241.3" y1="331" x2="213.6" y2="378.7"/>
<line x1="241.3" y1="331" x2="250.4" y2="395.5"/>
<line x1="241.3" y1="331" x2="236.3" y2="399.5"/>
<line x1="210.6" y1="339" x2="196.8" y2="357"/>
<line x1="210.6" y1="339" x2="224.8" y2="353.7"/>
<line x1="210.6" y1="339" x2="248.7" y2="353.1"/>
<line x1="210.6" y1="339" x2="261.4" y2="373.1"/>
<line x1="210.6" y1="339" x2="236.3" y2="375.4"/>
<line x1="210.6" y1="339" x2="213.6" y2="378.7"/>
<line x1="210.6" y1="339" x2="250.4" y2="395.5"/>
<line x1="210.6" y1="339" x2="236.3" y2="399.5"/>
<line x1="196.8" y1="357" x2="224.8" y2="353.7"/>
<line x1="196.8" y1="357" x2="248.7" y2="353.1"/>
<line x1="196.8" y1="357" x2="261.4" y2="373.1"/>
<line x1="196.8" y1="357" x2="236.3" y2="375.4"/>
<line x1="196.8" y1="357" x2="213.6" y2="378.7"/>
<line x1="196.8" y1="357" x2="250.4" y2="395.5"/>
<line x1="196.8" y1="357" x2="236.3" y2="399.5"/>
<line x1="224.8" y1="353.7" x2="248.7" y2="353.1"/>
<line x1="224.8" y1="353.7" x2="261.4" y2="373.1"/>
<line x1="224.8" y1="353.7" x2="236.3" y2="375.4"/>
<line x1="224.8" y1="353.7" x2="213.6" y2="378.7"/>
<line x1="224.8" y1="353.7" x2="250.4" y2="395.5"/>
<line x1="224.8" y1="353.7" x2="236.3" y2="399.5"/>
<line x1="248.7" y1="353.1" x2="261.4" y2="373.1"/>
<line x1="248.7" y1="353.1" x2="236.3" y2="375.4"/>
<line x1="248.7" y1="353.1" x2="213.6" y2="378.7"/>
<line x1="248.7" y1="353.1" x2="250.4" y2="395.5"/>
<line x1="248.7" y1="353.1" x2="236.3" y2="399.5"/>
<line x1="261.4" y1="373.1" x2="236.3" y2="375.4"/>
<line x1="261.4" y1="373.1" x2="213.6" y2="378.7"/>
<line x1="261.4" y1="373.1" x2="250.4" y2="395.5"/>
<line x1="261.4" y1="373.1" x2="236.3" y2="399.5"/>
<line x1="236.3" y1="375.4" x2="213.6" y2="378.7"/>
<line x1="236.3" y1="375.4" x2="250.4" y2="395.5"/>
<line x1="236.3" y1="375.4" x2="236.3" y2="399.5"/>
<line x1="213.6" y1="378.7" x2="250.4" y2="395.5"/>
<line x1="213.6" y1="378.7" x2="236.3" y2="399.5"/>
<line x1="250.4" y1="395.5" x2="236.3" y2="399.5"/>
</g>
<g stroke="#8fb8e0" stroke-width="0.5" opacity="0.85">
<line x1="251.4" y1="304.1" x2="241.3" y2="331"/>
<line x1="251.4" y1="304.1" x2="224.4" y2="327.8"/>
<line x1="251.4" y1="304.1" x2="248.7" y2="353.1"/>
<line x1="251.4" y1="304.1" x2="210.6" y2="339"/>
<line x1="251.4" y1="304.1" x2="224.8" y2="353.7"/>
<line x1="187.8" y1="330.9" x2="210.6" y2="339"/>
<line x1="187.8" y1="330.9" x2="196.8" y2="357"/>
<line x1="187.8" y1="330.9" x2="224.4" y2="327.8"/>
<line x1="187.8" y1="330.9" x2="224.8" y2="353.7"/>
<line x1="187.8" y1="330.9" x2="241.3" y2="331"/>
<line x1="269.7" y1="325.8" x2="241.3" y2="331"/>
<line x1="269.7" y1="325.8" x2="248.7" y2="353.1"/>
<line x1="269.7" y1="325.8" x2="224.4" y2="327.8"/>
<line x1="269.7" y1="325.8" x2="261.4" y2="373.1"/>
<line x1="269.7" y1="325.8" x2="224.8" y2="353.7"/>
<line x1="283.9" y1="350.3" x2="261.4" y2="373.1"/>
<line x1="283.9" y1="350.3" x2="248.7" y2="353.1"/>
<line x1="283.9" y1="350.3" x2="241.3" y2="331"/>
<line x1="283.9" y1="350.3" x2="236.3" y2="375.4"/>
<line x1="283.9" y1="350.3" x2="250.4" y2="395.5"/>
<line x1="182.4" y1="377.1" x2="196.8" y2="357"/>
<line x1="182.4" y1="377.1" x2="213.6" y2="378.7"/>
<line x1="182.4" y1="377.1" x2="210.6" y2="339"/>
<line x1="182.4" y1="377.1" x2="224.8" y2="353.7"/>
<line x1="182.4" y1="377.1" x2="236.3" y2="375.4"/>
<line x1="283.9" y1="378.7" x2="261.4" y2="373.1"/>
<line x1="283.9" y1="378.7" x2="250.4" y2="395.5"/>
<line x1="283.9" y1="378.7" x2="248.7" y2="353.1"/>
<line x1="283.9" y1="378.7" x2="236.3" y2="375.4"/>
<line x1="283.9" y1="378.7" x2="236.3" y2="399.5"/>
<line x1="184.4" y1="396.5" x2="213.6" y2="378.7"/>
<line x1="184.4" y1="396.5" x2="196.8" y2="357"/>
<line x1="184.4" y1="396.5" x2="236.3" y2="399.5"/>
<line x1="184.4" y1="396.5" x2="236.3" y2="375.4"/>
<line x1="184.4" y1="396.5" x2="224.8" y2="353.7"/>
<line x1="275.5" y1="399.8" x2="250.4" y2="395.5"/>
<line x1="275.5" y1="399.8" x2="261.4" y2="373.1"/>
<line x1="275.5" y1="399.8" x2="236.3" y2="399.5"/>
<line x1="275.5" y1="399.8" x2="236.3" y2="375.4"/>
<line x1="275.5" y1="399.8" x2="248.7" y2="353.1"/>
<line x1="204.5" y1="402.2" x2="213.6" y2="378.7"/>
<line x1="204.5" y1="402.2" x2="236.3" y2="399.5"/>
<line x1="204.5" y1="402.2" x2="236.3" y2="375.4"/>
<line x1="204.5" y1="402.2" x2="196.8" y2="357"/>
<line x1="204.5" y1="402.2" x2="250.4" y2="395.5"/>
<line x1="212.6" y1="414.6" x2="236.3" y2="399.5"/>
<line x1="212.6" y1="414.6" x2="213.6" y2="378.7"/>
<line x1="212.6" y1="414.6" x2="250.4" y2="395.5"/>
<line x1="212.6" y1="414.6" x2="236.3" y2="375.4"/>
<line x1="212.6" y1="414.6" x2="196.8" y2="357"/>
<line x1="262.1" y1="414.6" x2="250.4" y2="395.5"/>
<line x1="262.1" y1="414.6" x2="236.3" y2="399.5"/>
<line x1="262.1" y1="414.6" x2="261.4" y2="373.1"/>
<line x1="262.1" y1="414.6" x2="236.3" y2="375.4"/>
<line x1="262.1" y1="414.6" x2="213.6" y2="378.7"/>
<line x1="229.3" y1="418.9" x2="236.3" y2="399.5"/>
<line x1="229.3" y1="418.9" x2="250.4" y2="395.5"/>
<line x1="229.3" y1="418.9" x2="213.6" y2="378.7"/>
<line x1="229.3" y1="418.9" x2="236.3" y2="375.4"/>
<line x1="229.3" y1="418.9" x2="261.4" y2="373.1"/>
<line x1="248.1" y1="420.6" x2="236.3" y2="399.5"/>
<line x1="248.1" y1="420.6" x2="250.4" y2="395.5"/>
<line x1="248.1" y1="420.6" x2="236.3" y2="375.4"/>
<line x1="248.1" y1="420.6" x2="261.4" y2="373.1"/>
<line x1="248.1" y1="420.6" x2="213.6" y2="378.7"/>
</g>
<circle cx="251.4" cy="304.1" r="7.0" fill="#8cbde6" stroke="#6aa2d4" stroke-width="0.5"/>
<text x="251.4" y="305.0" font-family="Liberation Sans, sans-serif" font-size="2.6" fill="#2a3a4a" text-anchor="middle">C0017412</text>
<circle cx="187.8" cy="330.9" r="7.0" fill="#8cbde6" stroke="#6aa2d4" stroke-width="0.5"/>
<text x="187.8" y="331.79999999999995" font-family="Liberation Sans, sans-serif" font-size="2.6" fill="#2a3a4a" text-anchor="middle">C0022004</text>
<circle cx="269.7" cy="325.8" r="7.0" fill="#8cbde6" stroke="#6aa2d4" stroke-width="0.5"/>
<text x="269.7" y="326.7" font-family="Liberation Sans, sans-serif" font-size="2.6" fill="#2a3a4a" text-anchor="middle">C0021124</text>
<circle cx="283.9" cy="350.3" r="7.0" fill="#8cbde6" stroke="#6aa2d4" stroke-width="0.5"/>
<text x="283.9" y="351.2" font-family="Liberation Sans, sans-serif" font-size="2.6" fill="#2a3a4a" text-anchor="middle">C0057324</text>
<circle cx="182.4" cy="377.1" r="7.0" fill="#8cbde6" stroke="#6aa2d4" stroke-width="0.5"/>
<text x="182.4" y="378.0" font-family="Liberation Sans, sans-serif" font-size="2.6" fill="#2a3a4a" text-anchor="middle">C0032162</text>
<circle cx="283.9" cy="378.7" r="7.0" fill="#8cbde6" stroke="#6aa2d4" stroke-width="0.5"/>
<text x="283.9" y="379.59999999999997" font-family="Liberation Sans, sans-serif" font-size="2.6" fill="#2a3a4a" text-anchor="middle">C0097782</text>
<circle cx="184.4" cy="396.5" r="7.0" fill="#8cbde6" stroke="#6aa2d4" stroke-width="0.5"/>
<text x="184.4" y="397.4" font-family="Liberation Sans, sans-serif" font-size="2.6" fill="#2a3a4a" text-anchor="middle">C0050388</text>
<circle cx="275.5" cy="399.8" r="7.0" fill="#8cbde6" stroke="#6aa2d4" stroke-width="0.5"/>
<text x="275.5" y="400.7" font-family="Liberation Sans, sans-serif" font-size="2.6" fill="#2a3a4a" text-anchor="middle">C0042975</text>
<circle cx="204.5" cy="402.2" r="7.0" fill="#8cbde6" stroke="#6aa2d4" stroke-width="0.5"/>
<text x="204.5" y="403.09999999999997" font-family="Liberation Sans, sans-serif" font-size="2.6" fill="#2a3a4a" text-anchor="middle">C0089422</text>
<circle cx="212.6" cy="414.6" r="7.0" fill="#8cbde6" stroke="#6aa2d4" stroke-width="0.5"/>
<text x="212.6" y="415.5" font-family="Liberation Sans, sans-serif" font-size="2.6" fill="#2a3a4a" text-anchor="middle">C0037815</text>
<circle cx="262.1" cy="414.6" r="7.0" fill="#8cbde6" stroke="#6aa2d4" stroke-width="0.5"/>
<text x="262.1" y="415.5" font-family="Liberation Sans, sans-serif" font-size="2.6" fill="#2a3a4a" text-anchor="middle">C0089534</text>
<circle cx="229.3" cy="418.9" r="7.0" fill="#8cbde6" stroke="#6aa2d4" stroke-width="0.5"/>
<text x="229.3" y="419.79999999999995" font-family="Liberation Sans, sans-serif" font-size="2.6" fill="#2a3a4a" text-anchor="middle">C0014683</text>
<circle cx="248.1" cy="420.6" r="7.0" fill="#8cbde6" stroke="#6aa2d4" stroke-width="0.5"/>
<text x="248.1" y="421.5" font-family="Liberation Sans, sans-serif" font-size="2.6" fill="#2a3a4a" text-anchor="middle">C0086179</text>
<circle cx="224.4" cy="327.8" r="7.0" fill="#f4a21f" stroke="#e08e10" stroke-width="0.5"/>
<text x="224.4" y="328.7" font-family="Liberation Sans, sans-serif" font-size="2.6" fill="#4a3a20" text-anchor="middle">C0099292</text>
<circle cx="241.3" cy="331" r="7.0" fill="#f4a21f" stroke="#e08e10" stroke-width="0.5"/>
<text x="241.3" y="331.9" font-family="Liberation Sans, sans-serif" font-size="2.6" fill="#4a3a20" text-anchor="middle">C0030759</text>
<circle cx="210.6" cy="339" r="7.0" fill="#f4a21f" stroke="#e08e10" stroke-width="0.5"/>
<text x="210.6" y="339.9" font-family="Liberation Sans, sans-serif" font-size="2.6" fill="#4a3a20" text-anchor="middle">C0066448</text>
<circle cx="196.8" cy="357" r="7.0" fill="#f4a21f" stroke="#e08e10" stroke-width="0.5"/>
<text x="196.8" y="357.9" font-family="Liberation Sans, sans-serif" font-size="2.6" fill="#4a3a20" text-anchor="middle">C0093685</text>
<circle cx="224.8" cy="353.7" r="7.0" fill="#f4a21f" stroke="#e08e10" stroke-width="0.5"/>
<text x="224.8" y="354.59999999999997" font-family="Liberation Sans, sans-serif" font-size="2.6" fill="#4a3a20" text-anchor="middle">C0061581</text>
<circle cx="248.7" cy="353.1" r="7.0" fill="#f4a21f" stroke="#e08e10" stroke-width="0.5"/>
<text x="248.7" y="354.0" font-family="Liberation Sans, sans-serif" font-size="2.6" fill="#4a3a20" text-anchor="middle">C0076724</text>
<circle cx="261.4" cy="373.1" r="7.0" fill="#f4a21f" stroke="#e08e10" stroke-width="0.5"/>
<text x="261.4" y="374.0" font-family="Liberation Sans, sans-serif" font-size="2.6" fill="#4a3a20" text-anchor="middle">C0058766</text>
<circle cx="236.3" cy="375.4" r="7.0" fill="#f4a21f" stroke="#e08e10" stroke-width="0.5"/>
<text x="236.3" y="376.29999999999995" font-family="Liberation Sans, sans-serif" font-size="2.6" fill="#4a3a20" text-anchor="middle">C0081326</text>
<circle cx="213.6" cy="378.7" r="7.0" fill="#f4a21f" stroke="#e08e10" stroke-width="0.5"/>
<text x="213.6" y="379.59999999999997" font-family="Liberation Sans, sans-serif" font-size="2.6" fill="#4a3a20" text-anchor="middle">C0068307</text>
<circle cx="250.4" cy="395.5" r="7.0" fill="#f4a21f" stroke="#e08e10" stroke-width="0.5"/>
<text x="250.4" y="396.4" font-family="Liberation Sans, sans-serif" font-size="2.6" fill="#4a3a20" text-anchor="middle">C0075806</text>
<circle cx="236.3" cy="399.5" r="7.0" fill="#f4a21f" stroke="#e08e10" stroke-width="0.5"/>
<text x="236.3" y="400.4" font-family="Liberation Sans, sans-serif" font-size="2.6" fill="#4a3a20" text-anchor="middle">C0045158</text>
<g stroke="#f2b85e" stroke-width="0.45" opacity="0.75">
<line x1="358.7" y1="317.5" x2="335.9" y2="333.6"/>
<line x1="358.7" y1="317.5" x2="380.5" y2="333.6"/>
<line x1="358.7" y1="317.5" x2="357" y2="350.4"/>
<line x1="358.7" y1="317.5" x2="327.8" y2="355.4"/>
<line x1="358.7" y1="317.5" x2="382.8" y2="358.7"/>
<line x1="358.7" y1="317.5" x2="341.9" y2="372.2"/>
<line x1="358.7" y1="317.5" x2="368" y2="381.2"/>
<line x1="335.9" y1="333.6" x2="380.5" y2="333.6"/>
<line x1="335.9" y1="333.6" x2="357" y2="350.4"/>
<line x1="335.9" y1="333.6" x2="327.8" y2="355.4"/>
<line x1="335.9" y1="333.6" x2="382.8" y2="358.7"/>
<line x1="335.9" y1="333.6" x2="341.9" y2="372.2"/>
<line x1="335.9" y1="333.6" x2="368" y2="381.2"/>
<line x1="380.5" y1="333.6" x2="357" y2="350.4"/>
<line x1="380.5" y1="333.6" x2="327.8" y2="355.4"/>
<line x1="380.5" y1="333.6" x2="382.8" y2="358.7"/>
<line x1="380.5" y1="333.6" x2="341.9" y2="372.2"/>
<line x1="380.5" y1="333.6" x2="368" y2="381.2"/>
<line x1="357" y1="350.4" x2="327.8" y2="355.4"/>
<line x1="357" y1="350.4" x2="382.8" y2="358.7"/>
<line x1="357" y1="350.4" x2="341.9" y2="372.2"/>
<line x1="357" y1="350.4" x2="368" y2="381.2"/>
<line x1="327.8" y1="355.4" x2="382.8" y2="358.7"/>
<line x1="327.8" y1="355.4" x2="341.9" y2="372.2"/>
<line x1="327.8" y1="355.4" x2="368" y2="381.2"/>
<line x1="382.8" y1="358.7" x2="341.9" y2="372.2"/>
<line x1="382.8" y1="358.7" x2="368" y2="381.2"/>
<line x1="341.9" y1="372.2" x2="368" y2="381.2"/>
</g>
<g stroke="#f2b85e" stroke-width="0.5" opacity="0.85">
<line x1="396.2" y1="372.2" x2="382.8" y2="358.7"/>
<line x1="396.2" y1="372.2" x2="368" y2="381.2"/>
<line x1="401.6" y1="387.3" x2="368" y2="381.2"/>
<line x1="401.6" y1="387.3" x2="382.8" y2="358.7"/>
<line x1="327.8" y1="388.9" x2="341.9" y2="372.2"/>
<line x1="327.8" y1="388.9" x2="327.8" y2="355.4"/>
<line x1="352" y1="396.6" x2="368" y2="381.2"/>
<line x1="352" y1="396.6" x2="341.9" y2="372.2"/>
<line x1="390.5" y1="400.7" x2="368" y2="381.2"/>
<line x1="390.5" y1="400.7" x2="382.8" y2="358.7"/>
<line x1="371.4" y1="403.3" x2="368" y2="381.2"/>
<line x1="371.4" y1="403.3" x2="341.9" y2="372.2"/>
<line x1="333.5" y1="406.7" x2="341.9" y2="372.2"/>
<line x1="333.5" y1="406.7" x2="368" y2="381.2"/>
<line x1="345.9" y1="418.1" x2="368" y2="381.2"/>
<line x1="345.9" y1="418.1" x2="341.9" y2="372.2"/>
<line x1="365.4" y1="420.1" x2="368" y2="381.2"/>
<line x1="365.4" y1="420.1" x2="341.9" y2="372.2"/>
<line x1="387.2" y1="419.1" x2="368" y2="381.2"/>
<line x1="387.2" y1="419.1" x2="382.8" y2="358.7"/>
</g>
<circle cx="340.2" cy="306.8" r="7.3" fill="#8cbde6" stroke="#6aa2d4" stroke-width="0.5"/>
<text x="340.2" y="307.7" font-family="Liberation Sans, sans-serif" font-size="2.6" fill="#2a3a4a" text-anchor="middle">C0041190</text>
<circle cx="396.2" cy="372.2" r="7.3" fill="#8cbde6" stroke="#6aa2d4" stroke-width="0.5"/>
<text x="396.2" y="373.09999999999997" font-family="Liberation Sans, sans-serif" font-size="2.6" fill="#2a3a4a" text-anchor="middle">C0087678</text>
<circle cx="401.6" cy="387.3" r="7.3" fill="#8cbde6" stroke="#6aa2d4" stroke-width="0.5"/>
<text x="401.6" y="388.2" font-family="Liberation Sans, sans-serif" font-size="2.6" fill="#2a3a4a" text-anchor="middle">C0081333</text>
<circle cx="327.8" cy="388.9" r="7.3" fill="#8cbde6" stroke="#6aa2d4" stroke-width="0.5"/>
<text x="327.8" y="389.79999999999995" font-family="Liberation Sans, sans-serif" font-size="2.6" fill="#2a3a4a" text-anchor="middle">C0027094</text>
<circle cx="352" cy="396.6" r="7.3" fill="#8cbde6" stroke="#6aa2d4" stroke-width="0.5"/>
<text x="352" y="397.5" font-family="Liberation Sans, sans-serif" font-size="2.6" fill="#2a3a4a" text-anchor="middle">C0058490</text>
<circle cx="390.5" cy="400.7" r="7.3" fill="#8cbde6" stroke="#6aa2d4" stroke-width="0.5"/>
<text x="390.5" y="401.59999999999997" font-family="Liberation Sans, sans-serif" font-size="2.6" fill="#2a3a4a" text-anchor="middle">C0089157</text>
<circle cx="371.4" cy="403.3" r="7.3" fill="#8cbde6" stroke="#6aa2d4" stroke-width="0.5"/>
<text x="371.4" y="404.2" font-family="Liberation Sans, sans-serif" font-size="2.6" fill="#2a3a4a" text-anchor="middle">C0072135</text>
<circle cx="333.5" cy="406.7" r="7.3" fill="#8cbde6" stroke="#6aa2d4" stroke-width="0.5"/>
<text x="333.5" y="407.59999999999997" font-family="Liberation Sans, sans-serif" font-size="2.6" fill="#2a3a4a" text-anchor="middle">C0092014</text>
<circle cx="345.9" cy="418.1" r="7.3" fill="#8cbde6" stroke="#6aa2d4" stroke-width="0.5"/>
<text x="345.9" y="419.0" font-family="Liberation Sans, sans-serif" font-size="2.6" fill="#2a3a4a" text-anchor="middle">C0086133</text>
<circle cx="365.4" cy="420.1" r="7.3" fill="#8cbde6" stroke="#6aa2d4" stroke-width="0.5"/>
<text x="365.4" y="421.0" font-family="Liberation Sans, sans-serif" font-size="2.6" fill="#2a3a4a" text-anchor="middle">C0018588</text>
<circle cx="387.2" cy="419.1" r="7.3" fill="#8cbde6" stroke="#6aa2d4" stroke-width="0.5"/>
<text x="387.2" y="420.0" font-family="Liberation Sans, sans-serif" font-size="2.6" fill="#2a3a4a" text-anchor="middle">C0089377</text>
<circle cx="358.7" cy="317.5" r="7.0" fill="#f4a21f" stroke="#e08e10" stroke-width="0.5"/>
<text x="358.7" y="318.4" font-family="Liberation Sans, sans-serif" font-size="2.6" fill="#4a3a20" text-anchor="middle">C0011725</text>
<circle cx="335.9" cy="333.6" r="7.0" fill="#f4a21f" stroke="#e08e10" stroke-width="0.5"/>
<text x="335.9" y="334.5" font-family="Liberation Sans, sans-serif" font-size="2.6" fill="#4a3a20" text-anchor="middle">C0071503</text>
<circle cx="380.5" cy="333.6" r="7.0" fill="#f4a21f" stroke="#e08e10" stroke-width="0.5"/>
<text x="380.5" y="334.5" font-family="Liberation Sans, sans-serif" font-size="2.6" fill="#4a3a20" text-anchor="middle">C0043994</text>
<circle cx="357" cy="350.4" r="7.0" fill="#f4a21f" stroke="#e08e10" stroke-width="0.5"/>
<text x="357" y="351.29999999999995" font-family="Liberation Sans, sans-serif" font-size="2.6" fill="#4a3a20" text-anchor="middle">C0082192</text>
<circle cx="327.8" cy="355.4" r="7.0" fill="#f4a21f" stroke="#e08e10" stroke-width="0.5"/>
<text x="327.8" y="356.29999999999995" font-family="Liberation Sans, sans-serif" font-size="2.6" fill="#4a3a20" text-anchor="middle">C0040714</text>
<circle cx="382.8" cy="358.7" r="7.0" fill="#f4a21f" stroke="#e08e10" stroke-width="0.5"/>
<text x="382.8" y="359.59999999999997" font-family="Liberation Sans, sans-serif" font-size="2.6" fill="#4a3a20" text-anchor="middle">C0035132</text>
<circle cx="341.9" cy="372.2" r="7.0" fill="#f4a21f" stroke="#e08e10" stroke-width="0.5"/>
<text x="341.9" y="373.09999999999997" font-family="Liberation Sans, sans-serif" font-size="2.6" fill="#4a3a20" text-anchor="middle">C0071638</text>
<circle cx="368" cy="381.2" r="7.0" fill="#f4a21f" stroke="#e08e10" stroke-width="0.5"/>
<text x="368" y="382.09999999999997" font-family="Liberation Sans, sans-serif" font-size="2.6" fill="#4a3a20" text-anchor="middle">C0080906</text>
<g stroke="#f2b85e" stroke-width="0.45" opacity="0.75">
<line x1="444.8" y1="337.5" x2="472.3" y2="335.7"/>
<line x1="444.8" y1="337.5" x2="432.2" y2="365.5"/>
<line x1="444.8" y1="337.5" x2="460.4" y2="363.9"/>
<line x1="444.8" y1="337.5" x2="488.4" y2="362.3"/>
<line x1="444.8" y1="337.5" x2="448.3" y2="391.4"/>
<line x1="444.8" y1="337.5" x2="475.8" y2="389.8"/>
<line x1="472.3" y1="335.7" x2="432.2" y2="365.5"/>
<line x1="472.3" y1="335.7" x2="460.4" y2="363.9"/>
<line x1="472.3" y1="335.7" x2="488.4" y2="362.3"/>
<line x1="472.3" y1="335.7" x2="448.3" y2="391.4"/>
<line x1="472.3" y1="335.7" x2="475.8" y2="389.8"/>
<line x1="432.2" y1="365.5" x2="460.4" y2="363.9"/>
<line x1="432.2" y1="365.5" x2="488.4" y2="362.3"/>
<line x1="432.2" y1="365.5" x2="448.3" y2="391.4"/>
<line x1="432.2" y1="365.5" x2="475.8" y2="389.8"/>
<line x1="460.4" y1="363.9" x2="488.4" y2="362.3"/>
<line x1="460.4" y1="363.9" x2="448.3" y2="391.4"/>
<line x1="460.4" y1="363.9" x2="475.8" y2="389.8"/>
<line x1="488.4" y1="362.3" x2="448.3" y2="391.4"/>
<line x1="488.4" y1="362.3" x2="475.8" y2="389.8"/>
<line x1="448.3" y1="391.4" x2="475.8" y2="389.8"/>
</g>
<g stroke="#8fb8e0" stroke-width="0.5" opacity="0.85">
</g>
<circle cx="444.8" cy="337.5" r="7.6" fill="#f4a21f" stroke="#e08e10" stroke-width="0.5"/>
<text x="444.8" y="338.4" font-family="Liberation Sans, sans-serif" font-size="2.6" fill="#4a3a20" text-anchor="middle">C0040939</text>
<circle cx="472.3" cy="335.7" r="7.6" fill="#f4a21f" stroke="#e08e10" stroke-width="0.5"/>
<text x="472.3" y="336.59999999999997" font-family="Liberation Sans, sans-serif" font-size="2.6" fill="#4a3a20" text-anchor="middle">C0049753</text>
<circle cx="432.2" cy="365.5" r="7.6" fill="#f4a21f" stroke="#e08e10" stroke-width="0.5"/>
<text x="432.2" y="366.4" font-family="Liberation Sans, sans-serif" font-size="2.6" fill="#4a3a20" text-anchor="middle">C0023522</text>
<circle cx="460.4" cy="363.9" r="7.6" fill="#f4a21f" stroke="#e08e10" stroke-width="0.5"/>
<text x="460.4" y="364.79999999999995" font-family="Liberation Sans, sans-serif" font-size="2.6" fill="#4a3a20" text-anchor="middle">C0061912</text>
<circle cx="488.4" cy="362.3" r="7.6" fill="#f4a21f" stroke="#e08e10" stroke-width="0.5"/>
<text x="488.4" y="363.2" font-family="Liberation Sans, sans-serif" font-size="2.6" fill="#4a3a20" text-anchor="middle">C0072767</text>
<circle cx="448.3" cy="391.4" r="7.6" fill="#f4a21f" stroke="#e08e10" stroke-width="0.5"/>
<text x="448.3" y="392.29999999999995" font-family="Liberation Sans, sans-serif" font-size="2.6" fill="#4a3a20" text-anchor="middle">C0030312</text>
<circle cx="475.8" cy="389.8" r="7.6" fill="#f4a21f" stroke="#e08e10" stroke-width="0.5"/>
<text x="475.8" y="390.7" font-family="Liberation Sans, sans-serif" font-size="2.6" fill="#4a3a20" text-anchor="middle">C0021809</text>
</svg>
</body></html>
